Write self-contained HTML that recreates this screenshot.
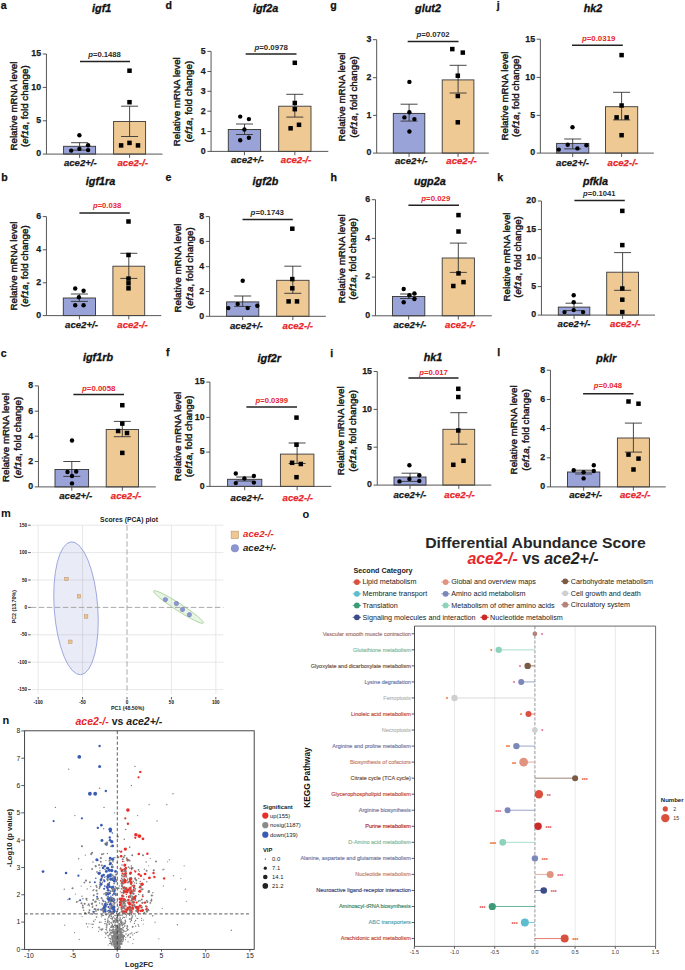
<!DOCTYPE html>
<html><head><meta charset="utf-8"><title>Figure</title><style>
html,body{margin:0;padding:0;background:#fff;overflow:hidden;width:685px;height:970px;}
svg{display:block;font-family:"Liberation Sans",sans-serif;}
.pl{font-weight:bold;font-size:10.6px;fill:#111;stroke:#111;stroke-width:0.25px}
.ti{font-weight:bold;font-style:italic;font-size:10.8px;text-anchor:middle;fill:#111;stroke:#111;stroke-width:0.3px}
.tl{font-weight:bold;font-size:9.8px;text-anchor:end;fill:#1a1a1a;stroke:#1a1a1a;stroke-width:0.25px}
.pv{font-size:7.4px;font-weight:bold}
.xl{font-weight:bold;font-style:italic;font-size:9.6px;text-anchor:middle;fill:#1a1a1a;stroke:#1a1a1a;stroke-width:0.25px}
.yl{font-size:9.4px;text-anchor:middle;fill:#161616;stroke:#161616;stroke-width:0.4px}
.plm,.pln{font-weight:bold;font-size:11px;fill:#111}
.plo{font-weight:bold;font-size:11px;fill:#111}
.pcat{font-weight:bold;font-size:6.8px;text-anchor:middle;fill:#222}
.pct{font-size:4.6px;text-anchor:end;fill:#111;font-weight:bold}
.pctx{font-size:4.6px;text-anchor:middle;fill:#111;font-weight:bold}
.pcax{font-weight:bold;font-size:5.3px;text-anchor:middle;fill:#222}
.lg{font-weight:bold;font-style:italic;font-size:8.2px;fill:#222}
.vt{font-weight:bold;font-size:10.5px;fill:#222}
.vtk{font-size:6.8px;text-anchor:end;fill:#222}
.vtkx{font-size:6.8px;text-anchor:middle;fill:#222}
.vax{font-weight:bold;font-size:7.6px;text-anchor:middle;fill:#222}
.vlb{font-weight:bold;font-size:5.8px;fill:#1a1a1a}
.vlt{font-size:5.9px;fill:#222}
.dt{font-weight:bold;font-size:14.9px;text-anchor:middle;fill:#262626}
.dt2{font-weight:bold;font-size:15.9px;text-anchor:middle;fill:#262626}
.sc{font-weight:bold;font-size:7.2px;fill:#222}
.lgt{font-size:7.2px;fill:#222}
.st{font-size:5.2px;fill:#e4422f;font-weight:bold}
.rl{font-size:5.5px;text-anchor:end;stroke-width:0.15px}
.lx{font-size:5.3px;text-anchor:middle;fill:#333}
.kp{font-weight:bold;font-size:8.3px;text-anchor:middle;fill:#111}
.nb{font-weight:bold;font-size:6px;fill:#222}
.nbt{font-size:5.2px;fill:#333}
</style></head>
<body><svg width="685" height="970" viewBox="0 0 685 970">
<rect width="685" height="970" fill="#fff"/>
<text x="0.7" y="9.2" class="pl">a</text>
<text x="101.7" y="12" class="ti">igf1</text>
<rect x="63.6" y="146.3" width="32" height="7.8" fill="#9aa3d8" stroke="#333" stroke-width="0.9"/>
<rect x="113.6" y="121.5" width="32" height="32.6" fill="#eec994" stroke="#3a3a3a" stroke-width="0.9"/>
<path d="M79.6 142.7V150.1M71.1 142.7H88.1M71.1 150.1H88.1" stroke="#333" stroke-width="0.9" fill="none"/>
<path d="M129.6 106.2V136.5M121.1 106.2H138.1M121.1 136.5H138.1" stroke="#333" stroke-width="0.9" fill="none"/>
<path d="M46.45 54V154.1H162.5" stroke="#444" stroke-width="0.9" fill="none"/>
<path d="M42.75 154.1H46.45M42.75 120.8H46.45M42.75 87.4H46.45M42.75 54H46.45M79.6 154.1v3.8M129.6 154.1v3.8" stroke="#444" stroke-width="0.9" fill="none"/>
<text x="41.15" y="156.4" class="tl" textLength="4.9" lengthAdjust="spacingAndGlyphs">0</text>
<text x="41.15" y="123.1" class="tl" textLength="4.9" lengthAdjust="spacingAndGlyphs">5</text>
<text x="41.15" y="89.7" class="tl" textLength="9.81" lengthAdjust="spacingAndGlyphs">10</text>
<text x="41.15" y="56.3" class="tl" textLength="9.81" lengthAdjust="spacingAndGlyphs">15</text>
<circle cx="79.4" cy="135.2" r="2.2"/>
<circle cx="71.2" cy="150.6" r="2.2"/>
<circle cx="79.4" cy="148.9" r="2.2"/>
<circle cx="88.1" cy="145.2" r="2.2"/>
<circle cx="88.1" cy="150.1" r="2.2"/>
<rect x="127.25" y="68.45" width="4.5" height="4.5"/>
<rect x="127.25" y="99.95" width="4.5" height="4.5"/>
<rect x="118.85" y="143.15" width="4.5" height="4.5"/>
<rect x="127.25" y="140.65" width="4.5" height="4.5"/>
<rect x="135.75" y="143.15" width="4.5" height="4.5"/>
<path d="M80 61.5H130" stroke="#222" stroke-width="1.5"/>
<text x="88.2" y="56.7" class="pv" fill="#2a2a2a" textLength="32.7" lengthAdjust="spacingAndGlyphs"><tspan font-style="italic">p</tspan>=0.1488</text>
<text x="80.3" y="165.8" class="xl">ace2+/-</text>
<text x="132.7" y="165.8" class="xl" style="fill:#e8262b;stroke:#e8262b">ace2-/-</text>
<text transform="translate(16.5 106.1) rotate(-90)" class="yl" textLength="89" lengthAdjust="spacingAndGlyphs">Relative mRNA level</text>
<text transform="translate(28.4 106.1) rotate(-90)" class="yl" textLength="81.7" lengthAdjust="spacingAndGlyphs">(<tspan font-style="italic">ef1a</tspan>, fold change)</text>
<text x="1.2" y="180.9" class="pl">b</text>
<text x="100.5" y="185" class="ti">igf1ra</text>
<rect x="63.3" y="298" width="32.2" height="17.6" fill="#9aa3d8" stroke="#333" stroke-width="0.9"/>
<rect x="112.9" y="266.2" width="31.8" height="49.4" fill="#eec994" stroke="#3a3a3a" stroke-width="0.9"/>
<path d="M79.4 294V301.4M70.9 294H87.9M70.9 301.4H87.9" stroke="#333" stroke-width="0.9" fill="none"/>
<path d="M128.8 253.3V278.4M120.3 253.3H137.3M120.3 278.4H137.3" stroke="#333" stroke-width="0.9" fill="none"/>
<path d="M46.45 216.6V315.6H161.3" stroke="#444" stroke-width="0.9" fill="none"/>
<path d="M42.75 315.6H46.45M42.75 282.8H46.45M42.75 249.8H46.45M42.75 216.6H46.45M79.4 315.6v3.8M128.8 315.6v3.8" stroke="#444" stroke-width="0.9" fill="none"/>
<text x="41.15" y="317.9" class="tl" textLength="4.9" lengthAdjust="spacingAndGlyphs">0</text>
<text x="41.15" y="285.1" class="tl" textLength="4.9" lengthAdjust="spacingAndGlyphs">2</text>
<text x="41.15" y="252.1" class="tl" textLength="4.9" lengthAdjust="spacingAndGlyphs">4</text>
<text x="41.15" y="218.9" class="tl" textLength="4.9" lengthAdjust="spacingAndGlyphs">6</text>
<circle cx="75.2" cy="288.5" r="2.2"/>
<circle cx="83.6" cy="290.8" r="2.2"/>
<circle cx="78.9" cy="297.2" r="2.2"/>
<circle cx="75.2" cy="305.2" r="2.2"/>
<circle cx="83.6" cy="305.2" r="2.2"/>
<rect x="126.25" y="219.25" width="4.5" height="4.5"/>
<rect x="126.25" y="252.75" width="4.5" height="4.5"/>
<rect x="126.25" y="276.35" width="4.5" height="4.5"/>
<rect x="126.25" y="281.05" width="4.5" height="4.5"/>
<rect x="126.25" y="286.05" width="4.5" height="4.5"/>
<path d="M79.4 212.9H129.8" stroke="#222" stroke-width="1.5"/>
<text x="93" y="208.2" class="pv" fill="#e8262b" textLength="28.2" lengthAdjust="spacingAndGlyphs"><tspan font-style="italic">p</tspan>=0.038</text>
<text x="81.5" y="328.2" class="xl">ace2+/-</text>
<text x="132.5" y="328.2" class="xl" style="fill:#e8262b;stroke:#e8262b">ace2-/-</text>
<text transform="translate(16.5 266.1) rotate(-90)" class="yl" textLength="89" lengthAdjust="spacingAndGlyphs">Relative mRNA level</text>
<text transform="translate(28.1 266.1) rotate(-90)" class="yl" textLength="81.7" lengthAdjust="spacingAndGlyphs">(<tspan font-style="italic">ef1a</tspan>, fold change)</text>
<text x="0.7" y="356.5" class="pl">c</text>
<text x="98" y="361.2" class="ti">igf1rb</text>
<rect x="55" y="469.5" width="33.6" height="17.4" fill="#9aa3d8" stroke="#333" stroke-width="0.9"/>
<rect x="106.2" y="429.5" width="32.3" height="57.4" fill="#eec994" stroke="#3a3a3a" stroke-width="0.9"/>
<path d="M71.8 461.5V476.4M63.3 461.5H80.3M63.3 476.4H80.3" stroke="#333" stroke-width="0.9" fill="none"/>
<path d="M122.3 421.4V436.7M113.8 421.4H130.8M113.8 436.7H130.8" stroke="#333" stroke-width="0.9" fill="none"/>
<path d="M38.45 385.9V486.9H155.8" stroke="#444" stroke-width="0.9" fill="none"/>
<path d="M34.75 486.9H38.45M34.75 461.5H38.45M34.75 436.2H38.45M34.75 411.2H38.45M34.75 385.9H38.45M71.8 486.9v3.8M122.35 486.9v3.8" stroke="#444" stroke-width="0.9" fill="none"/>
<text x="33.15" y="489.2" class="tl" textLength="4.9" lengthAdjust="spacingAndGlyphs">0</text>
<text x="33.15" y="463.8" class="tl" textLength="4.9" lengthAdjust="spacingAndGlyphs">2</text>
<text x="33.15" y="438.5" class="tl" textLength="4.9" lengthAdjust="spacingAndGlyphs">4</text>
<text x="33.15" y="413.5" class="tl" textLength="4.9" lengthAdjust="spacingAndGlyphs">6</text>
<text x="33.15" y="388.2" class="tl" textLength="4.9" lengthAdjust="spacingAndGlyphs">8</text>
<circle cx="72" cy="440.5" r="2.2"/>
<circle cx="67.5" cy="472" r="2.2"/>
<circle cx="76.2" cy="471.5" r="2.2"/>
<circle cx="72" cy="483.4" r="2.2"/>
<circle cx="72" cy="476" r="2.2"/>
<rect x="120.05" y="402.95" width="4.5" height="4.5"/>
<rect x="120.05" y="421.35" width="4.5" height="4.5"/>
<rect x="115.85" y="428.75" width="4.5" height="4.5"/>
<rect x="124.75" y="430.75" width="4.5" height="4.5"/>
<rect x="120.05" y="450.65" width="4.5" height="4.5"/>
<path d="M73.4 394.6H124" stroke="#222" stroke-width="1.5"/>
<text x="82" y="391.2" class="pv" fill="#e8262b" textLength="33.4" lengthAdjust="spacingAndGlyphs"><tspan font-style="italic">p</tspan>=0.0058</text>
<text x="75.7" y="499" class="xl">ace2+/-</text>
<text x="126" y="499" class="xl" style="fill:#e8262b;stroke:#e8262b">ace2-/-</text>
<text transform="translate(8.9 437.6) rotate(-90)" class="yl" textLength="89" lengthAdjust="spacingAndGlyphs">Relative mRNA level</text>
<text transform="translate(20.5 437.6) rotate(-90)" class="yl" textLength="81.7" lengthAdjust="spacingAndGlyphs">(<tspan font-style="italic">ef1a</tspan>, fold change)</text>
<text x="165.6" y="9.4" class="pl">d</text>
<text x="265.6" y="12.1" class="ti">igf2a</text>
<rect x="228.3" y="129.5" width="32.3" height="21.9" fill="#9aa3d8" stroke="#333" stroke-width="0.9"/>
<rect x="278.7" y="106.2" width="32.3" height="45.2" fill="#eec994" stroke="#3a3a3a" stroke-width="0.9"/>
<path d="M244.5 124V134.5M236 124H253M236 134.5H253" stroke="#333" stroke-width="0.9" fill="none"/>
<path d="M294.8 94.3V117.1M286.3 94.3H303.3M286.3 117.1H303.3" stroke="#333" stroke-width="0.9" fill="none"/>
<path d="M211.07 51.4V151.4H328.3" stroke="#444" stroke-width="0.9" fill="none"/>
<path d="M207.37 151.4H211.07M207.37 131.5H211.07M207.37 111.2H211.07M207.37 91.3H211.07M207.37 71.5H211.07M207.37 51.4H211.07M244.45 151.4v3.8M294.85 151.4v3.8" stroke="#444" stroke-width="0.9" fill="none"/>
<text x="205.77" y="153.7" class="tl" textLength="4.9" lengthAdjust="spacingAndGlyphs">0</text>
<text x="205.77" y="133.8" class="tl" textLength="4.9" lengthAdjust="spacingAndGlyphs">1</text>
<text x="205.77" y="113.5" class="tl" textLength="4.9" lengthAdjust="spacingAndGlyphs">2</text>
<text x="205.77" y="93.6" class="tl" textLength="4.9" lengthAdjust="spacingAndGlyphs">3</text>
<text x="205.77" y="73.8" class="tl" textLength="4.9" lengthAdjust="spacingAndGlyphs">4</text>
<text x="205.77" y="53.7" class="tl" textLength="4.9" lengthAdjust="spacingAndGlyphs">5</text>
<circle cx="240.2" cy="116.6" r="2.2"/>
<circle cx="248.9" cy="119.1" r="2.2"/>
<circle cx="244.4" cy="129.5" r="2.2"/>
<circle cx="240.2" cy="140.2" r="2.2"/>
<circle cx="248.9" cy="137.7" r="2.2"/>
<rect x="292.55" y="60.55" width="4.5" height="4.5"/>
<rect x="292.55" y="100.75" width="4.5" height="4.5"/>
<rect x="292.55" y="106.95" width="4.5" height="4.5"/>
<rect x="288.35" y="126.05" width="4.5" height="4.5"/>
<rect x="296.75" y="122.55" width="4.5" height="4.5"/>
<path d="M245.7 54.1H296.5" stroke="#222" stroke-width="1.5"/>
<text x="254.4" y="49.5" class="pv" fill="#2a2a2a" textLength="33.5" lengthAdjust="spacingAndGlyphs"><tspan font-style="italic">p</tspan>=0.0978</text>
<text x="247.4" y="163.2" class="xl">ace2+/-</text>
<text x="296" y="163.2" class="xl" style="fill:#e8262b;stroke:#e8262b">ace2-/-</text>
<text transform="translate(180.4 101.7) rotate(-90)" class="yl" textLength="89" lengthAdjust="spacingAndGlyphs">Relative mRNA level</text>
<text transform="translate(192 101.7) rotate(-90)" class="yl" textLength="81.7" lengthAdjust="spacingAndGlyphs">(<tspan font-style="italic">ef1a</tspan>, fold change)</text>
<text x="165.5" y="180.8" class="pl">e</text>
<text x="265.5" y="185" class="ti">igf2b</text>
<rect x="226.6" y="301.9" width="32.2" height="14.4" fill="#9aa3d8" stroke="#333" stroke-width="0.9"/>
<rect x="276.7" y="280.3" width="32.3" height="36" fill="#eec994" stroke="#3a3a3a" stroke-width="0.9"/>
<path d="M242.7 296V306.4M234.2 296H251.2M234.2 306.4H251.2" stroke="#333" stroke-width="0.9" fill="none"/>
<path d="M292.8 266.2V293.3M284.3 266.2H301.3M284.3 293.3H301.3" stroke="#333" stroke-width="0.9" fill="none"/>
<path d="M209.57 216.6V316.3H325.8" stroke="#444" stroke-width="0.9" fill="none"/>
<path d="M205.87 316.3H209.57M205.87 291.5H209.57M205.87 266.7H209.57M205.87 241.4H209.57M205.87 216.6H209.57M242.7 316.3v3.8M292.85 316.3v3.8" stroke="#444" stroke-width="0.9" fill="none"/>
<text x="204.27" y="318.6" class="tl" textLength="4.9" lengthAdjust="spacingAndGlyphs">0</text>
<text x="204.27" y="293.8" class="tl" textLength="4.9" lengthAdjust="spacingAndGlyphs">2</text>
<text x="204.27" y="269" class="tl" textLength="4.9" lengthAdjust="spacingAndGlyphs">4</text>
<text x="204.27" y="243.7" class="tl" textLength="4.9" lengthAdjust="spacingAndGlyphs">6</text>
<text x="204.27" y="218.9" class="tl" textLength="4.9" lengthAdjust="spacingAndGlyphs">8</text>
<circle cx="242.7" cy="280.8" r="2.2"/>
<circle cx="237.7" cy="303.9" r="2.2"/>
<circle cx="228.3" cy="308.1" r="2.2"/>
<circle cx="247.7" cy="308.1" r="2.2"/>
<circle cx="257.3" cy="305.7" r="2.2"/>
<rect x="290.05" y="226.45" width="4.5" height="4.5"/>
<rect x="290.05" y="276.85" width="4.5" height="4.5"/>
<rect x="290.05" y="286.05" width="4.5" height="4.5"/>
<rect x="286.35" y="299.15" width="4.5" height="4.5"/>
<rect x="294.75" y="299.15" width="4.5" height="4.5"/>
<path d="M242.5 219.6H292.8" stroke="#222" stroke-width="1.5"/>
<text x="250.6" y="215" class="pv" fill="#2a2a2a" textLength="33.4" lengthAdjust="spacingAndGlyphs"><tspan font-style="italic">p</tspan>=0.1743</text>
<text x="246.4" y="329" class="xl">ace2+/-</text>
<text x="297.8" y="329" class="xl" style="fill:#e8262b;stroke:#e8262b">ace2-/-</text>
<text transform="translate(181.3 268.1) rotate(-90)" class="yl" textLength="89" lengthAdjust="spacingAndGlyphs">Relative mRNA level</text>
<text transform="translate(192.9 268.1) rotate(-90)" class="yl" textLength="81.7" lengthAdjust="spacingAndGlyphs">(<tspan font-style="italic">ef1a</tspan>, fold change)</text>
<text x="166" y="356.3" class="pl">f</text>
<text x="269.3" y="362" class="ti">igf2r</text>
<rect x="227.6" y="479.3" width="34.2" height="7.1" fill="#9aa3d8" stroke="#333" stroke-width="0.9"/>
<rect x="280.4" y="454.1" width="33.5" height="32.3" fill="#eec994" stroke="#3a3a3a" stroke-width="0.9"/>
<path d="M244.7 477V481M236.2 477H253.2M236.2 481H253.2" stroke="#333" stroke-width="0.9" fill="none"/>
<path d="M297.1 443V463.5M288.6 443H305.6M288.6 463.5H305.6" stroke="#333" stroke-width="0.9" fill="none"/>
<path d="M209.93 382.1V486.4H331.3" stroke="#444" stroke-width="0.9" fill="none"/>
<path d="M206.23 486.4H209.93M206.23 452.1H209.93M206.23 417.4H209.93M206.23 382.1H209.93M244.7 486.4v3.8M297.15 486.4v3.8" stroke="#444" stroke-width="0.9" fill="none"/>
<text x="204.63" y="488.7" class="tl" textLength="4.9" lengthAdjust="spacingAndGlyphs">0</text>
<text x="204.63" y="454.4" class="tl" textLength="4.9" lengthAdjust="spacingAndGlyphs">5</text>
<text x="204.63" y="419.7" class="tl" textLength="9.81" lengthAdjust="spacingAndGlyphs">10</text>
<text x="204.63" y="384.4" class="tl" textLength="9.81" lengthAdjust="spacingAndGlyphs">15</text>
<circle cx="235.8" cy="473.5" r="2.2"/>
<circle cx="244.4" cy="478.4" r="2.2"/>
<circle cx="253.9" cy="476" r="2.2"/>
<circle cx="235.8" cy="483.1" r="2.2"/>
<circle cx="253.9" cy="482.6" r="2.2"/>
<rect x="294.25" y="415.35" width="4.5" height="4.5"/>
<rect x="294.25" y="442.45" width="4.5" height="4.5"/>
<rect x="289.85" y="460.55" width="4.5" height="4.5"/>
<rect x="298.55" y="461.75" width="4.5" height="4.5"/>
<rect x="294.25" y="474.95" width="4.5" height="4.5"/>
<path d="M246.4 407H297" stroke="#222" stroke-width="1.5"/>
<text x="255.6" y="402.9" class="pv" fill="#e8262b" textLength="32.3" lengthAdjust="spacingAndGlyphs"><tspan font-style="italic">p</tspan>=0.0399</text>
<text x="247" y="500.7" class="xl">ace2+/-</text>
<text x="297.8" y="500.7" class="xl" style="fill:#e8262b;stroke:#e8262b">ace2-/-</text>
<text transform="translate(180.7 436.4) rotate(-90)" class="yl" textLength="89" lengthAdjust="spacingAndGlyphs">Relative mRNA level</text>
<text transform="translate(192.3 436.4) rotate(-90)" class="yl" textLength="81.7" lengthAdjust="spacingAndGlyphs">(<tspan font-style="italic">ef1a</tspan>, fold change)</text>
<text x="330.3" y="9.3" class="pl">g</text>
<text x="428" y="12" class="ti">glut2</text>
<rect x="393.3" y="113.4" width="31.5" height="39.7" fill="#9aa3d8" stroke="#333" stroke-width="0.9"/>
<rect x="442.2" y="79.9" width="31.7" height="73.2" fill="#eec994" stroke="#3a3a3a" stroke-width="0.9"/>
<path d="M409.1 104.2V121.1M400.6 104.2H417.6M400.6 121.1H417.6" stroke="#333" stroke-width="0.9" fill="none"/>
<path d="M458.1 65.3V93M449.6 65.3H466.6M449.6 93H466.6" stroke="#333" stroke-width="0.9" fill="none"/>
<path d="M376.66 39.7V153.1H488.8" stroke="#444" stroke-width="0.9" fill="none"/>
<path d="M372.96 153.1H376.66M372.96 115.4H376.66M372.96 77.7H376.66M372.96 39.7H376.66M409.05 153.1v3.8M458.05 153.1v3.8" stroke="#444" stroke-width="0.9" fill="none"/>
<text x="371.36" y="155.4" class="tl" textLength="4.9" lengthAdjust="spacingAndGlyphs">0</text>
<text x="371.36" y="117.7" class="tl" textLength="4.9" lengthAdjust="spacingAndGlyphs">1</text>
<text x="371.36" y="80" class="tl" textLength="4.9" lengthAdjust="spacingAndGlyphs">2</text>
<text x="371.36" y="42" class="tl" textLength="4.9" lengthAdjust="spacingAndGlyphs">3</text>
<circle cx="409.4" cy="81.9" r="2.2"/>
<circle cx="409.4" cy="112.2" r="2.2"/>
<circle cx="404.4" cy="117.4" r="2.2"/>
<circle cx="414.4" cy="119.1" r="2.2"/>
<circle cx="409.4" cy="131.5" r="2.2"/>
<rect x="450.05" y="46.85" width="4.5" height="4.5"/>
<rect x="460.55" y="50.35" width="4.5" height="4.5"/>
<rect x="455.55" y="73.45" width="4.5" height="4.5"/>
<rect x="455.55" y="93.75" width="4.5" height="4.5"/>
<rect x="455.55" y="120.05" width="4.5" height="4.5"/>
<path d="M407.7 41.4H458.5" stroke="#222" stroke-width="1.5"/>
<text x="416.4" y="36.5" class="pv" fill="#2a2a2a" textLength="33.2" lengthAdjust="spacingAndGlyphs"><tspan font-style="italic">p</tspan>=0.0702</text>
<text x="411.4" y="164" class="xl">ace2+/-</text>
<text x="461.5" y="164" class="xl" style="fill:#e8262b;stroke:#e8262b">ace2-/-</text>
<text transform="translate(345.4 97) rotate(-90)" class="yl" textLength="89" lengthAdjust="spacingAndGlyphs">Relative mRNA level</text>
<text transform="translate(357 97) rotate(-90)" class="yl" textLength="81.7" lengthAdjust="spacingAndGlyphs">(<tspan font-style="italic">ef1a</tspan>, fold change)</text>
<text x="330.4" y="180.8" class="pl">h</text>
<text x="429.8" y="185" class="ti">ugp2a</text>
<rect x="392.5" y="296.5" width="32.3" height="19.3" fill="#9aa3d8" stroke="#333" stroke-width="0.9"/>
<rect x="442.2" y="258" width="32.2" height="57.8" fill="#eec994" stroke="#3a3a3a" stroke-width="0.9"/>
<path d="M408.6 294V298.5M400.1 294H417.1M400.1 298.5H417.1" stroke="#333" stroke-width="0.9" fill="none"/>
<path d="M458.3 243.1V272.4M449.8 243.1H466.8M449.8 272.4H466.8" stroke="#333" stroke-width="0.9" fill="none"/>
<path d="M375.5 199.7V315.8H491.8" stroke="#444" stroke-width="0.9" fill="none"/>
<path d="M371.8 315.8H375.5M371.8 277.1H375.5M371.8 238.4H375.5M371.8 199.7H375.5M408.65 315.8v3.8M458.3 315.8v3.8" stroke="#444" stroke-width="0.9" fill="none"/>
<text x="370.2" y="318.1" class="tl" textLength="4.9" lengthAdjust="spacingAndGlyphs">0</text>
<text x="370.2" y="279.4" class="tl" textLength="4.9" lengthAdjust="spacingAndGlyphs">2</text>
<text x="370.2" y="240.7" class="tl" textLength="4.9" lengthAdjust="spacingAndGlyphs">4</text>
<text x="370.2" y="202" class="tl" textLength="4.9" lengthAdjust="spacingAndGlyphs">6</text>
<circle cx="403.7" cy="289" r="2.2"/>
<circle cx="409.4" cy="295.2" r="2.2"/>
<circle cx="403.7" cy="302.2" r="2.2"/>
<circle cx="414.4" cy="293.5" r="2.2"/>
<circle cx="414.4" cy="299" r="2.2"/>
<rect x="456.25" y="212.85" width="4.5" height="4.5"/>
<rect x="456.25" y="229.25" width="4.5" height="4.5"/>
<rect x="456.25" y="271.15" width="4.5" height="4.5"/>
<rect x="451.05" y="283.75" width="4.5" height="4.5"/>
<rect x="461.25" y="279.85" width="4.5" height="4.5"/>
<path d="M408.4 205.2H459" stroke="#222" stroke-width="1.5"/>
<text x="421.3" y="201" class="pv" fill="#e8262b" textLength="29" lengthAdjust="spacingAndGlyphs"><tspan font-style="italic">p</tspan>=0.029</text>
<text x="409.9" y="327.5" class="xl">ace2+/-</text>
<text x="460.3" y="327.5" class="xl" style="fill:#e8262b;stroke:#e8262b">ace2-/-</text>
<text transform="translate(344.8 258.8) rotate(-90)" class="yl" textLength="89" lengthAdjust="spacingAndGlyphs">Relative mRNA level</text>
<text transform="translate(356.4 258.8) rotate(-90)" class="yl" textLength="81.7" lengthAdjust="spacingAndGlyphs">(<tspan font-style="italic">ef1a</tspan>, fold change)</text>
<text x="330.3" y="356.5" class="pl">i</text>
<text x="433" y="361.2" class="ti">hk1</text>
<rect x="394" y="477" width="32" height="8.1" fill="#9aa3d8" stroke="#333" stroke-width="0.9"/>
<rect x="442.9" y="429.3" width="31.8" height="55.8" fill="#eec994" stroke="#3a3a3a" stroke-width="0.9"/>
<path d="M410 473.2V481.4M401.5 473.2H418.5M401.5 481.4H418.5" stroke="#333" stroke-width="0.9" fill="none"/>
<path d="M458.8 412.7V444.2M450.3 412.7H467.3M450.3 444.2H467.3" stroke="#333" stroke-width="0.9" fill="none"/>
<path d="M377.28 371.5V485.1H491.3" stroke="#444" stroke-width="0.9" fill="none"/>
<path d="M373.58 485.1H377.28M373.58 447.2H377.28M373.58 409.4H377.28M373.58 371.5H377.28M410 485.1v3.8M458.8 485.1v3.8" stroke="#444" stroke-width="0.9" fill="none"/>
<text x="371.98" y="487.4" class="tl" textLength="4.9" lengthAdjust="spacingAndGlyphs">0</text>
<text x="371.98" y="449.5" class="tl" textLength="4.9" lengthAdjust="spacingAndGlyphs">5</text>
<text x="371.98" y="411.7" class="tl" textLength="9.81" lengthAdjust="spacingAndGlyphs">10</text>
<text x="371.98" y="373.8" class="tl" textLength="9.81" lengthAdjust="spacingAndGlyphs">15</text>
<circle cx="409.4" cy="465.3" r="2.2"/>
<circle cx="399.5" cy="481.4" r="2.2"/>
<circle cx="409.4" cy="478.9" r="2.2"/>
<circle cx="419.3" cy="475.2" r="2.2"/>
<circle cx="419.3" cy="480.9" r="2.2"/>
<rect x="456.05" y="386.55" width="4.5" height="4.5"/>
<rect x="456.05" y="394.75" width="4.5" height="4.5"/>
<rect x="456.05" y="428.25" width="4.5" height="4.5"/>
<rect x="451.05" y="462.55" width="4.5" height="4.5"/>
<rect x="461.25" y="458.55" width="4.5" height="4.5"/>
<path d="M408.4 377.9H458.5" stroke="#222" stroke-width="1.5"/>
<text x="419.3" y="375.1" class="pv" fill="#e8262b" textLength="28.6" lengthAdjust="spacingAndGlyphs"><tspan font-style="italic">p</tspan>=0.017</text>
<text x="409.9" y="497.8" class="xl">ace2+/-</text>
<text x="459.5" y="497.8" class="xl" style="fill:#e8262b;stroke:#e8262b">ace2-/-</text>
<text transform="translate(344.2 430.8) rotate(-90)" class="yl" textLength="89" lengthAdjust="spacingAndGlyphs">Relative mRNA level</text>
<text transform="translate(355.8 430.8) rotate(-90)" class="yl" textLength="81.7" lengthAdjust="spacingAndGlyphs">(<tspan font-style="italic">ef1a</tspan>, fold change)</text>
<text x="496.8" y="9.3" class="pl">j</text>
<text x="593" y="12" class="ti">hk2</text>
<rect x="556.6" y="143.4" width="32.2" height="9.7" fill="#9aa3d8" stroke="#333" stroke-width="0.9"/>
<rect x="605.5" y="106.7" width="32.2" height="46.4" fill="#eec994" stroke="#3a3a3a" stroke-width="0.9"/>
<path d="M572.7 139V148.9M564.2 139H581.2M564.2 148.9H581.2" stroke="#333" stroke-width="0.9" fill="none"/>
<path d="M621.6 92.3V119.9M613.1 92.3H630.1M613.1 119.9H630.1" stroke="#333" stroke-width="0.9" fill="none"/>
<path d="M540.36 39.2V153.1H653.8" stroke="#444" stroke-width="0.9" fill="none"/>
<path d="M536.66 153.1H540.36M536.66 115.4H540.36M536.66 77.4H540.36M536.66 39.2H540.36M572.7 153.1v3.8M621.6 153.1v3.8" stroke="#444" stroke-width="0.9" fill="none"/>
<text x="535.06" y="155.4" class="tl" textLength="4.9" lengthAdjust="spacingAndGlyphs">0</text>
<text x="535.06" y="117.7" class="tl" textLength="4.9" lengthAdjust="spacingAndGlyphs">5</text>
<text x="535.06" y="79.7" class="tl" textLength="9.81" lengthAdjust="spacingAndGlyphs">10</text>
<text x="535.06" y="41.5" class="tl" textLength="9.81" lengthAdjust="spacingAndGlyphs">15</text>
<circle cx="572.5" cy="127.3" r="2.2"/>
<circle cx="567.7" cy="144.7" r="2.2"/>
<circle cx="558.8" cy="149.6" r="2.2"/>
<circle cx="577.4" cy="148.4" r="2.2"/>
<circle cx="586.4" cy="145.2" r="2.2"/>
<rect x="619.35" y="52.85" width="4.5" height="4.5"/>
<rect x="619.35" y="103.25" width="4.5" height="4.5"/>
<rect x="614.35" y="115.15" width="4.5" height="4.5"/>
<rect x="624.35" y="115.15" width="4.5" height="4.5"/>
<rect x="619.35" y="132.95" width="4.5" height="4.5"/>
<path d="M572 45.2H622.8" stroke="#222" stroke-width="1.5"/>
<text x="581.9" y="40.9" class="pv" fill="#e8262b" textLength="33.5" lengthAdjust="spacingAndGlyphs"><tspan font-style="italic">p</tspan>=0.0319</text>
<text x="572.5" y="165.7" class="xl">ace2+/-</text>
<text x="622.8" y="165.7" class="xl" style="fill:#e8262b;stroke:#e8262b">ace2-/-</text>
<text transform="translate(507.5 96.1) rotate(-90)" class="yl" textLength="89" lengthAdjust="spacingAndGlyphs">Relative mRNA level</text>
<text transform="translate(519.4 96.1) rotate(-90)" class="yl" textLength="81.7" lengthAdjust="spacingAndGlyphs">(<tspan font-style="italic">ef1a</tspan>, fold change)</text>
<text x="497.3" y="180.8" class="pl">k</text>
<text x="595.5" y="184.6" class="ti">pfkla</text>
<rect x="558.3" y="307.1" width="31.5" height="8" fill="#9aa3d8" stroke="#333" stroke-width="0.9"/>
<rect x="606.7" y="272.2" width="31.8" height="42.9" fill="#eec994" stroke="#3a3a3a" stroke-width="0.9"/>
<path d="M574 303.2V310.6M565.5 303.2H582.5M565.5 310.6H582.5" stroke="#333" stroke-width="0.9" fill="none"/>
<path d="M622.6 252.6V290.3M614.1 252.6H631.1M614.1 290.3H631.1" stroke="#333" stroke-width="0.9" fill="none"/>
<path d="M541.45 201V315.1H655" stroke="#444" stroke-width="0.9" fill="none"/>
<path d="M537.75 315.1H541.45M537.75 286.6H541.45M537.75 258H541.45M537.75 229.5H541.45M537.75 201H541.45M574.05 315.1v3.8M622.6 315.1v3.8" stroke="#444" stroke-width="0.9" fill="none"/>
<text x="536.15" y="317.4" class="tl" textLength="4.9" lengthAdjust="spacingAndGlyphs">0</text>
<text x="536.15" y="288.9" class="tl" textLength="4.9" lengthAdjust="spacingAndGlyphs">5</text>
<text x="536.15" y="260.3" class="tl" textLength="9.81" lengthAdjust="spacingAndGlyphs">10</text>
<text x="536.15" y="231.8" class="tl" textLength="9.81" lengthAdjust="spacingAndGlyphs">15</text>
<text x="536.15" y="203.3" class="tl" textLength="9.81" lengthAdjust="spacingAndGlyphs">20</text>
<circle cx="573.7" cy="295.2" r="2.2"/>
<circle cx="573.7" cy="302.2" r="2.2"/>
<circle cx="564.5" cy="312.1" r="2.2"/>
<circle cx="573.7" cy="310.1" r="2.2"/>
<circle cx="583.1" cy="312.1" r="2.2"/>
<rect x="620.05" y="208.65" width="4.5" height="4.5"/>
<rect x="620.05" y="242.85" width="4.5" height="4.5"/>
<rect x="620.05" y="286.25" width="4.5" height="4.5"/>
<rect x="620.05" y="297.45" width="4.5" height="4.5"/>
<rect x="620.05" y="309.85" width="4.5" height="4.5"/>
<path d="M574.4 200.4H624.8" stroke="#222" stroke-width="1.5"/>
<text x="583.1" y="195.9" class="pv" fill="#2a2a2a" textLength="32.3" lengthAdjust="spacingAndGlyphs"><tspan font-style="italic">p</tspan>=0.1041</text>
<text x="574" y="327" class="xl">ace2+/-</text>
<text x="625.3" y="327" class="xl" style="fill:#e8262b;stroke:#e8262b">ace2-/-</text>
<text transform="translate(509.6 257) rotate(-90)" class="yl" textLength="89" lengthAdjust="spacingAndGlyphs">Relative mRNA level</text>
<text transform="translate(521.4 257) rotate(-90)" class="yl" textLength="81.7" lengthAdjust="spacingAndGlyphs">(<tspan font-style="italic">ef1a</tspan>, fold change)</text>
<text x="497.2" y="356.2" class="pl">l</text>
<text x="606.2" y="362" class="ti">pklr</text>
<rect x="567.5" y="472" width="32.3" height="14.9" fill="#9aa3d8" stroke="#333" stroke-width="0.9"/>
<rect x="617.4" y="438" width="32" height="48.9" fill="#eec994" stroke="#3a3a3a" stroke-width="0.9"/>
<path d="M583.6 470.2V474M575.1 470.2H592.1M575.1 474H592.1" stroke="#333" stroke-width="0.9" fill="none"/>
<path d="M633.4 423.1V452.1M624.9 423.1H641.9M624.9 452.1H641.9" stroke="#333" stroke-width="0.9" fill="none"/>
<path d="M550.45 370.2V486.9H665.8" stroke="#444" stroke-width="0.9" fill="none"/>
<path d="M546.75 486.9H550.45M546.75 457.8H550.45M546.75 428.5H550.45M546.75 399.5H550.45M546.75 370.2H550.45M583.65 486.9v3.8M633.4 486.9v3.8" stroke="#444" stroke-width="0.9" fill="none"/>
<text x="545.15" y="489.2" class="tl" textLength="4.9" lengthAdjust="spacingAndGlyphs">0</text>
<text x="545.15" y="460.1" class="tl" textLength="4.9" lengthAdjust="spacingAndGlyphs">2</text>
<text x="545.15" y="430.8" class="tl" textLength="4.9" lengthAdjust="spacingAndGlyphs">4</text>
<text x="545.15" y="401.8" class="tl" textLength="4.9" lengthAdjust="spacingAndGlyphs">6</text>
<text x="545.15" y="372.5" class="tl" textLength="4.9" lengthAdjust="spacingAndGlyphs">8</text>
<circle cx="573.7" cy="470.2" r="2.2"/>
<circle cx="583.6" cy="472.2" r="2.2"/>
<circle cx="593.8" cy="465.3" r="2.2"/>
<circle cx="593.8" cy="471" r="2.2"/>
<circle cx="583.6" cy="478.4" r="2.2"/>
<rect x="626.25" y="399.25" width="4.5" height="4.5"/>
<rect x="636.25" y="401.45" width="4.5" height="4.5"/>
<rect x="626.25" y="452.35" width="4.5" height="4.5"/>
<rect x="636.25" y="456.35" width="4.5" height="4.5"/>
<rect x="631.25" y="467.25" width="4.5" height="4.5"/>
<path d="M583.1 393.8H633.5" stroke="#222" stroke-width="1.5"/>
<text x="593.8" y="388.3" class="pv" fill="#e8262b" textLength="28.3" lengthAdjust="spacingAndGlyphs"><tspan font-style="italic">p</tspan>=0.048</text>
<text x="585.6" y="498.2" class="xl">ace2+/-</text>
<text x="635.2" y="498.2" class="xl" style="fill:#e8262b;stroke:#e8262b">ace2-/-</text>
<text transform="translate(517.2 429.9) rotate(-90)" class="yl" textLength="89" lengthAdjust="spacingAndGlyphs">Relative mRNA level</text>
<text transform="translate(528.7 429.9) rotate(-90)" class="yl" textLength="81.7" lengthAdjust="spacingAndGlyphs">(<tspan font-style="italic">ef1a</tspan>, fold change)</text>
<text x="1" y="517.3" class="plm">m</text>
<text x="129" y="521.6" class="pcat">Scores (PCA) plot</text>
<path d="M31.8 525.2H223.4M31.8 552.6H223.4M31.8 580H223.4M31.8 634.8H223.4M31.8 662.2H223.4M31.8 689.6H223.4M38.16 525.2V694M82.58 525.2V694M171.42 525.2V694M215.84 525.2V694" stroke="#dedede" stroke-width="0.7" fill="none"/>
<ellipse cx="76" cy="608.3" rx="21.8" ry="66.6" transform="rotate(-4.1 76 608.3)" fill="#7d8ad2" fill-opacity="0.17" stroke="#7d8ad2" stroke-width="0.7"/>
<ellipse cx="178.5" cy="607" rx="29.6" ry="3.6" transform="rotate(32.9 178.5 607)" fill="#98cc88" fill-opacity="0.22" stroke="#98cc88" stroke-width="0.7"/>
<path d="M30.8 607.4H223.4M127 525.2V694" stroke="#a0a0a0" stroke-width="0.9" stroke-dasharray="5.5 2.5" fill="none"/>
<text x="27" y="526.7" class="pct">150</text>
<text x="27" y="554.1" class="pct">100</text>
<text x="27" y="581.5" class="pct">50</text>
<text x="27" y="608.9" class="pct">0</text>
<text x="27" y="636.3" class="pct">-50</text>
<text x="27" y="663.7" class="pct">-100</text>
<text x="27" y="691.1" class="pct">-150</text>
<text x="38.16" y="704" class="pctx">-100</text>
<text x="82.58" y="704" class="pctx">-50</text>
<text x="127" y="704" class="pctx">0</text>
<text x="171.42" y="704" class="pctx">50</text>
<text x="215.84" y="704" class="pctx">100</text>
<path d="M28.1 525.2H30.8M28.1 552.6H30.8M28.1 580H30.8M28.1 607.4H30.8M28.1 634.8H30.8M28.1 662.2H30.8M28.1 689.6H30.8M38.16 697V699.4M82.58 697V699.4M127 697V699.4M171.42 697V699.4M215.84 697V699.4" stroke="#333" stroke-width="0.8" fill="none"/>
<text x="127.6" y="710.2" class="pcax">PC1 (48.50%)</text>
<text transform="translate(15.6 606.7) rotate(-90)" class="pcax">PC2 (13.70%)</text>
<rect x="64.7" y="577.2" width="3.6" height="3.6" fill="#eec08a" stroke="#b08a60" stroke-width="0.4"/>
<rect x="77.2" y="594.5" width="3.6" height="3.6" fill="#eec08a" stroke="#b08a60" stroke-width="0.4"/>
<rect x="84.3" y="614.7" width="3.6" height="3.6" fill="#eec08a" stroke="#b08a60" stroke-width="0.4"/>
<rect x="68.5" y="640" width="3.6" height="3.6" fill="#eec08a" stroke="#b08a60" stroke-width="0.4"/>
<circle cx="165.4" cy="599.6" r="2.2" fill="#8c96d0" stroke="#5a66a8" stroke-width="0.4"/>
<circle cx="176.4" cy="603.5" r="2.2" fill="#8c96d0" stroke="#5a66a8" stroke-width="0.4"/>
<circle cx="182.5" cy="609.5" r="2.2" fill="#8c96d0" stroke="#5a66a8" stroke-width="0.4"/>
<circle cx="189.4" cy="614.7" r="2.2" fill="#8c96d0" stroke="#5a66a8" stroke-width="0.4"/>
<rect x="231.1" y="531.1" width="7.6" height="7.6" fill="#eec890" stroke="#b09070" stroke-width="0.5"/>
<circle cx="234.9" cy="548.3" r="3.8" fill="#8c96d0" stroke="#6a74b8" stroke-width="0.4"/>
<text x="243" y="537.3" class="lg" style="fill:#e8262b" textLength="30.7" lengthAdjust="spacingAndGlyphs">ace2-/-</text>
<text x="243" y="550.7" class="lg" textLength="33" lengthAdjust="spacingAndGlyphs">ace2+/-</text>
<text x="2.5" y="724" class="pln">n</text>
<text x="75.5" y="725" class="vt"><tspan fill="#e8262b" font-style="italic">ace2-/-</tspan> vs <tspan font-style="italic">ace2+/-</tspan></text>
<g><circle cx="127.54" cy="908.16" r="0.85" fill="#e8302a"/><circle cx="129.67" cy="847.13" r="0.8" fill="#808080"/><circle cx="113.3" cy="889.56" r="1.39" fill="#3a5bb5"/><circle cx="102.22" cy="903.93" r="0.94" fill="#808080"/><circle cx="105.3" cy="912.67" r="1.04" fill="#808080"/><circle cx="128.74" cy="908.74" r="0.81" fill="#e8302a"/><circle cx="117.35" cy="862.71" r="0.76" fill="#808080"/><circle cx="141.96" cy="907.57" r="0.96" fill="#808080"/><circle cx="118.61" cy="948.67" r="0.79" fill="#808080"/><circle cx="92.12" cy="852.71" r="1.07" fill="#808080"/><circle cx="130.86" cy="904.11" r="1" fill="#808080"/><circle cx="117.49" cy="939.08" r="0.64" fill="#808080"/><circle cx="131.44" cy="785.54" r="0.7" fill="#808080"/><circle cx="117.86" cy="944.78" r="0.79" fill="#808080"/><circle cx="107.6" cy="880.66" r="0.67" fill="#808080"/><circle cx="126.7" cy="858.23" r="0.92" fill="#808080"/><circle cx="108.3" cy="894.44" r="1.02" fill="#3a5bb5"/><circle cx="115.9" cy="939.46" r="0.74" fill="#808080"/><circle cx="125.92" cy="875.28" r="0.86" fill="#e8302a"/><circle cx="123.09" cy="898.79" r="1.02" fill="#808080"/><circle cx="118.77" cy="888.13" r="0.77" fill="#808080"/><circle cx="117.53" cy="949.2" r="0.71" fill="#808080"/><circle cx="88.89" cy="912.56" r="0.98" fill="#808080"/><circle cx="146.8" cy="900.65" r="0.84" fill="#808080"/><circle cx="118.59" cy="937.64" r="0.68" fill="#808080"/><circle cx="115.78" cy="895.28" r="1.02" fill="#808080"/><circle cx="121.41" cy="941.6" r="0.61" fill="#808080"/><circle cx="162.91" cy="869.81" r="0.74" fill="#808080"/><circle cx="121.53" cy="937.57" r="0.59" fill="#808080"/><circle cx="134.38" cy="905.9" r="0.78" fill="#808080"/><circle cx="146.61" cy="870.67" r="1.04" fill="#808080"/><circle cx="118.69" cy="940.94" r="0.8" fill="#808080"/><circle cx="115.53" cy="871.44" r="1.41" fill="#3a5bb5"/><circle cx="106.38" cy="871.38" r="1.45" fill="#3a5bb5"/><circle cx="115.13" cy="940.85" r="0.75" fill="#808080"/><circle cx="93.13" cy="911.74" r="0.86" fill="#808080"/><circle cx="116.42" cy="945.09" r="0.64" fill="#808080"/><circle cx="123.13" cy="917.31" r="0.75" fill="#808080"/><circle cx="103.08" cy="911.79" r="0.85" fill="#808080"/><circle cx="115.47" cy="942.8" r="0.86" fill="#808080"/><circle cx="121" cy="931.46" r="0.83" fill="#808080"/><circle cx="117.37" cy="947.35" r="0.73" fill="#808080"/><circle cx="120.83" cy="934.4" r="0.7" fill="#808080"/><circle cx="134.73" cy="882.9" r="0.72" fill="#808080"/><circle cx="101.95" cy="929.57" r="0.82" fill="#808080"/><circle cx="117.11" cy="933.52" r="0.61" fill="#808080"/><circle cx="125" cy="874.07" r="1.64" fill="#e8302a"/><circle cx="125.39" cy="921.96" r="0.71" fill="#808080"/><circle cx="118.6" cy="947.14" r="0.77" fill="#808080"/><circle cx="119.73" cy="924.12" r="0.82" fill="#808080"/><circle cx="117.2" cy="944.5" r="0.76" fill="#808080"/><circle cx="107.93" cy="920.38" r="0.76" fill="#808080"/><circle cx="118.63" cy="947.26" r="0.57" fill="#808080"/><circle cx="114.22" cy="900.09" r="0.96" fill="#3a5bb5"/><circle cx="133.35" cy="902.17" r="1.53" fill="#e8302a"/><circle cx="125.5" cy="900.01" r="0.62" fill="#e8302a"/><circle cx="137.62" cy="909.01" r="0.95" fill="#808080"/><circle cx="114.04" cy="883.41" r="0.88" fill="#808080"/><circle cx="104.38" cy="908.55" r="0.95" fill="#3a5bb5"/><circle cx="124.97" cy="931.41" r="0.68" fill="#808080"/><circle cx="118" cy="942.24" r="0.67" fill="#808080"/><circle cx="116.52" cy="945.04" r="0.89" fill="#808080"/><circle cx="116.75" cy="948.41" r="0.78" fill="#808080"/><circle cx="93.72" cy="921.28" r="0.82" fill="#808080"/><circle cx="128.17" cy="929.63" r="0.57" fill="#808080"/><circle cx="112.49" cy="864.53" r="0.6" fill="#808080"/><circle cx="119.6" cy="942.15" r="0.55" fill="#808080"/><circle cx="97.88" cy="860.69" r="0.6" fill="#808080"/><circle cx="116.05" cy="945.75" r="0.87" fill="#808080"/><circle cx="119.73" cy="940.34" r="0.65" fill="#808080"/><circle cx="81.47" cy="903.31" r="1.01" fill="#808080"/><circle cx="114.87" cy="925.37" r="0.56" fill="#808080"/><circle cx="102.83" cy="900" r="0.77" fill="#808080"/><circle cx="115.55" cy="940.04" r="0.58" fill="#808080"/><circle cx="102.01" cy="854.35" r="1.02" fill="#808080"/><circle cx="109.62" cy="915.91" r="0.89" fill="#808080"/><circle cx="102.23" cy="882.82" r="0.67" fill="#3a5bb5"/><circle cx="96.9" cy="859.73" r="1.6" fill="#3a5bb5"/><circle cx="106.1" cy="895.6" r="0.7" fill="#3a5bb5"/><circle cx="95.57" cy="909.16" r="0.95" fill="#808080"/><circle cx="118.71" cy="948.42" r="0.68" fill="#808080"/><circle cx="114.59" cy="945.25" r="0.83" fill="#808080"/><circle cx="121.68" cy="923.3" r="0.63" fill="#808080"/><circle cx="116.4" cy="926.03" r="0.66" fill="#808080"/><circle cx="115.87" cy="938.39" r="0.58" fill="#808080"/><circle cx="117.13" cy="942.84" r="0.82" fill="#808080"/><circle cx="116.5" cy="946.73" r="0.69" fill="#808080"/><circle cx="184.17" cy="865.85" r="0.6" fill="#808080"/><circle cx="112.97" cy="927.02" r="0.66" fill="#808080"/><circle cx="121.33" cy="904.03" r="0.96" fill="#808080"/><circle cx="104.04" cy="807.39" r="0.7" fill="#808080"/><circle cx="124.37" cy="917.59" r="0.75" fill="#808080"/><circle cx="110.22" cy="908.95" r="0.79" fill="#808080"/><circle cx="117.71" cy="935.24" r="0.62" fill="#808080"/><circle cx="117.57" cy="949.05" r="0.6" fill="#808080"/><circle cx="115.37" cy="886.64" r="0.66" fill="#808080"/><circle cx="78.43" cy="901" r="0.6" fill="#808080"/><circle cx="142.36" cy="896.04" r="0.69" fill="#808080"/><circle cx="99.6" cy="903.04" r="0.74" fill="#808080"/><circle cx="118.71" cy="937.55" r="0.74" fill="#808080"/><circle cx="104.11" cy="888.73" r="1.08" fill="#3a5bb5"/><circle cx="118.86" cy="945.45" r="0.64" fill="#808080"/><circle cx="119.69" cy="920.18" r="0.78" fill="#808080"/><circle cx="97.35" cy="893.67" r="1.01" fill="#808080"/><circle cx="131.47" cy="882.77" r="0.97" fill="#808080"/><circle cx="130.51" cy="921.77" r="0.67" fill="#808080"/><circle cx="116.8" cy="930.06" r="0.85" fill="#808080"/><circle cx="100.13" cy="882.26" r="0.96" fill="#808080"/><circle cx="130.71" cy="894.98" r="0.9" fill="#808080"/><circle cx="118.65" cy="945.46" r="0.63" fill="#808080"/><circle cx="117.86" cy="944.1" r="0.64" fill="#808080"/><circle cx="121.39" cy="923.4" r="0.58" fill="#808080"/><circle cx="95" cy="909.17" r="0.95" fill="#808080"/><circle cx="116.89" cy="933.24" r="0.79" fill="#808080"/><circle cx="113.75" cy="938.2" r="0.85" fill="#808080"/><circle cx="99.36" cy="928.93" r="0.53" fill="#808080"/><circle cx="115.31" cy="933.58" r="0.66" fill="#808080"/><circle cx="120.16" cy="934.46" r="0.73" fill="#808080"/><circle cx="123.04" cy="932.42" r="0.66" fill="#808080"/><circle cx="113.25" cy="857.99" r="0.78" fill="#3a5bb5"/><circle cx="116.92" cy="948.07" r="0.69" fill="#808080"/><circle cx="119.03" cy="942.37" r="0.75" fill="#808080"/><circle cx="116.19" cy="919.95" r="0.64" fill="#808080"/><circle cx="102.73" cy="910.07" r="1" fill="#808080"/><circle cx="118.99" cy="920.68" r="0.69" fill="#808080"/><circle cx="110.01" cy="899.13" r="0.8" fill="#808080"/><circle cx="116.9" cy="946.05" r="0.67" fill="#808080"/><circle cx="115.73" cy="894.28" r="0.75" fill="#808080"/><circle cx="128.45" cy="934.84" r="0.77" fill="#808080"/><circle cx="113.55" cy="902.25" r="0.67" fill="#808080"/><circle cx="111.78" cy="841.63" r="1.68" fill="#3a5bb5"/><circle cx="129.65" cy="915.14" r="0.83" fill="#808080"/><circle cx="124.12" cy="911.96" r="0.97" fill="#808080"/><circle cx="131.99" cy="916.98" r="0.54" fill="#808080"/><circle cx="117.38" cy="945.87" r="0.77" fill="#808080"/><circle cx="140.01" cy="905.73" r="1.24" fill="#e8302a"/><circle cx="114.54" cy="936.59" r="0.85" fill="#808080"/><circle cx="117.68" cy="943.56" r="0.81" fill="#808080"/><circle cx="112.24" cy="938.24" r="0.76" fill="#808080"/><circle cx="130.09" cy="879.02" r="1.18" fill="#e8302a"/><circle cx="119.27" cy="943.58" r="0.61" fill="#808080"/><circle cx="116.86" cy="894.03" r="0.68" fill="#808080"/><circle cx="105.29" cy="923.16" r="0.53" fill="#808080"/><circle cx="118.09" cy="948.39" r="0.66" fill="#808080"/><circle cx="129.32" cy="896.71" r="1.51" fill="#e8302a"/><circle cx="116.89" cy="929.73" r="0.8" fill="#808080"/><circle cx="152.84" cy="892.74" r="0.74" fill="#808080"/><circle cx="117.19" cy="940.28" r="0.71" fill="#808080"/><circle cx="138.83" cy="926.13" r="0.73" fill="#808080"/><circle cx="111.58" cy="912.86" r="0.72" fill="#808080"/><circle cx="116.34" cy="944.3" r="0.74" fill="#808080"/><circle cx="123.64" cy="903.22" r="1.07" fill="#e8302a"/><circle cx="92.31" cy="903.36" r="0.91" fill="#808080"/><circle cx="128.52" cy="867.09" r="0.92" fill="#808080"/><circle cx="82.07" cy="916.54" r="0.6" fill="#808080"/><circle cx="103.94" cy="880.08" r="1" fill="#808080"/><circle cx="109.59" cy="860.68" r="1.1" fill="#808080"/><circle cx="119.67" cy="920.5" r="0.78" fill="#808080"/><circle cx="116.77" cy="941.02" r="0.61" fill="#808080"/><circle cx="113.06" cy="891.16" r="0.97" fill="#808080"/><circle cx="112.7" cy="906.89" r="0.7" fill="#808080"/><circle cx="124.41" cy="870.02" r="0.97" fill="#808080"/><circle cx="94.06" cy="913.37" r="0.92" fill="#808080"/><circle cx="97.94" cy="898.6" r="1.04" fill="#808080"/><circle cx="110.36" cy="831.01" r="1.57" fill="#3a5bb5"/><circle cx="151.55" cy="899.32" r="0.81" fill="#808080"/><circle cx="121.08" cy="934.98" r="0.67" fill="#808080"/><circle cx="116.89" cy="948.36" r="0.62" fill="#808080"/><circle cx="116.18" cy="874.49" r="1.08" fill="#808080"/><circle cx="119.66" cy="941.57" r="0.77" fill="#808080"/><circle cx="106.22" cy="844.01" r="1.63" fill="#3a5bb5"/><circle cx="118.52" cy="944.98" r="0.78" fill="#808080"/><circle cx="135.92" cy="879.61" r="0.85" fill="#e8302a"/><circle cx="115.66" cy="941.91" r="0.78" fill="#808080"/><circle cx="117.59" cy="945.1" r="0.62" fill="#808080"/><circle cx="111.03" cy="943.29" r="0.79" fill="#808080"/><circle cx="148.91" cy="891.05" r="1.07" fill="#808080"/><circle cx="120.85" cy="938.12" r="0.62" fill="#808080"/><circle cx="122.84" cy="906.35" r="0.81" fill="#808080"/><circle cx="116.39" cy="940.79" r="0.84" fill="#808080"/><circle cx="131.86" cy="933.14" r="0.55" fill="#808080"/><circle cx="117.18" cy="943.78" r="0.66" fill="#808080"/><circle cx="112.88" cy="894.92" r="0.7" fill="#808080"/><circle cx="121.88" cy="870.77" r="1.39" fill="#e8302a"/><circle cx="116.28" cy="943.84" r="0.88" fill="#808080"/><circle cx="112.23" cy="900.5" r="0.79" fill="#3a5bb5"/><circle cx="120.72" cy="852.04" r="0.62" fill="#e8302a"/><circle cx="104.79" cy="886.08" r="0.83" fill="#3a5bb5"/><circle cx="114.64" cy="881.37" r="1.24" fill="#3a5bb5"/><circle cx="121.29" cy="892.7" r="0.67" fill="#e8302a"/><circle cx="118.46" cy="935.68" r="0.74" fill="#808080"/><circle cx="106.04" cy="933.66" r="0.85" fill="#808080"/><circle cx="135.44" cy="895.7" r="0.82" fill="#808080"/><circle cx="116.59" cy="935.38" r="0.73" fill="#808080"/><circle cx="112.32" cy="932.15" r="0.74" fill="#808080"/><circle cx="93.01" cy="890.43" r="0.78" fill="#808080"/><circle cx="114.37" cy="893.61" r="1.41" fill="#3a5bb5"/><circle cx="116.82" cy="946" r="0.59" fill="#808080"/><circle cx="148.76" cy="910.6" r="0.73" fill="#808080"/><circle cx="115.52" cy="929.57" r="0.8" fill="#808080"/><circle cx="104.75" cy="877.33" r="0.72" fill="#3a5bb5"/><circle cx="117.42" cy="937.23" r="0.83" fill="#808080"/><circle cx="115.73" cy="938.66" r="0.82" fill="#808080"/><circle cx="112.48" cy="924.62" r="0.56" fill="#808080"/><circle cx="117.67" cy="943.39" r="0.75" fill="#808080"/><circle cx="185.37" cy="889.32" r="0.7" fill="#808080"/><circle cx="118.54" cy="939.79" r="0.55" fill="#808080"/><circle cx="53.65" cy="821.04" r="1.1" fill="#3a5bb5"/><circle cx="136.33" cy="917.91" r="0.52" fill="#808080"/><circle cx="110.24" cy="858.3" r="1.43" fill="#3a5bb5"/><circle cx="120.97" cy="930.47" r="0.64" fill="#808080"/><circle cx="122.64" cy="938.03" r="0.62" fill="#808080"/><circle cx="125.48" cy="871.64" r="1.07" fill="#e8302a"/><circle cx="118.83" cy="944.87" r="0.58" fill="#808080"/><circle cx="118.91" cy="947.38" r="0.58" fill="#808080"/><circle cx="120.1" cy="915.61" r="0.74" fill="#808080"/><circle cx="119.69" cy="938.75" r="0.9" fill="#808080"/><circle cx="108.22" cy="902.23" r="0.9" fill="#808080"/><circle cx="132.5" cy="896.35" r="0.84" fill="#808080"/><circle cx="116.7" cy="946.42" r="0.69" fill="#808080"/><circle cx="100.79" cy="861.78" r="0.95" fill="#808080"/><circle cx="115.9" cy="943.86" r="0.65" fill="#808080"/><circle cx="113.93" cy="917.7" r="0.63" fill="#808080"/><circle cx="147.45" cy="901.99" r="1" fill="#808080"/><circle cx="121.25" cy="920.07" r="0.73" fill="#808080"/><circle cx="118.53" cy="929.22" r="0.73" fill="#808080"/><circle cx="118.51" cy="935.86" r="0.71" fill="#808080"/><circle cx="118.31" cy="930.34" r="0.76" fill="#808080"/><circle cx="114.65" cy="812.85" r="0.7" fill="#808080"/><circle cx="98.67" cy="931.4" r="0.53" fill="#808080"/><circle cx="85.95" cy="880.57" r="1.1" fill="#808080"/><circle cx="117.17" cy="941.23" r="0.53" fill="#808080"/><circle cx="105.25" cy="937.34" r="0.62" fill="#808080"/><circle cx="119.54" cy="941.62" r="0.8" fill="#808080"/><circle cx="116.09" cy="946.28" r="0.67" fill="#808080"/><circle cx="109.38" cy="874.98" r="0.68" fill="#3a5bb5"/><circle cx="130.8" cy="883.06" r="1.12" fill="#e8302a"/><circle cx="156.03" cy="861.49" r="0.92" fill="#808080"/><circle cx="113.52" cy="912.31" r="1.12" fill="#3a5bb5"/><circle cx="128.44" cy="899.95" r="1.27" fill="#e8302a"/><circle cx="117.46" cy="946.35" r="0.63" fill="#808080"/><circle cx="102.5" cy="882.19" r="0.74" fill="#808080"/><circle cx="107.37" cy="898.6" r="1.02" fill="#808080"/><circle cx="101.13" cy="929.32" r="0.84" fill="#808080"/><circle cx="84.68" cy="903.76" r="1.07" fill="#808080"/><circle cx="132.74" cy="902.09" r="1.03" fill="#808080"/><circle cx="148.39" cy="891.95" r="0.88" fill="#808080"/><circle cx="109.83" cy="914.76" r="0.61" fill="#808080"/><circle cx="140.28" cy="881.56" r="0.7" fill="#808080"/><circle cx="80.17" cy="900.24" r="1.1" fill="#3a5bb5"/><circle cx="115.01" cy="934.77" r="0.62" fill="#808080"/><circle cx="127.95" cy="909.43" r="0.7" fill="#808080"/><circle cx="131.7" cy="869.62" r="0.77" fill="#808080"/><circle cx="115.91" cy="939.28" r="0.68" fill="#808080"/><circle cx="116.34" cy="936.23" r="0.68" fill="#808080"/><circle cx="118.23" cy="923.03" r="0.66" fill="#808080"/><circle cx="116.79" cy="945.85" r="0.66" fill="#808080"/><circle cx="121.96" cy="885.37" r="0.81" fill="#808080"/><circle cx="116.71" cy="947.15" r="0.71" fill="#808080"/><circle cx="100.23" cy="873.01" r="0.85" fill="#808080"/><circle cx="121.72" cy="936.5" r="0.66" fill="#808080"/><circle cx="92.47" cy="927.53" r="0.62" fill="#808080"/><circle cx="115.98" cy="936.33" r="0.84" fill="#808080"/><circle cx="105.81" cy="892.84" r="0.69" fill="#808080"/><circle cx="121.79" cy="875.17" r="0.76" fill="#e8302a"/><circle cx="103.9" cy="907.3" r="0.86" fill="#808080"/><circle cx="132.42" cy="908.23" r="1.63" fill="#e8302a"/><circle cx="118.71" cy="946.22" r="0.8" fill="#808080"/><circle cx="116.16" cy="947.88" r="0.83" fill="#808080"/><circle cx="142.93" cy="896.49" r="0.86" fill="#e8302a"/><circle cx="119.44" cy="946.26" r="0.72" fill="#808080"/><circle cx="104.6" cy="910.7" r="1.34" fill="#3a5bb5"/><circle cx="120.24" cy="929.7" r="0.72" fill="#808080"/><circle cx="105.08" cy="919.28" r="0.85" fill="#808080"/><circle cx="115.4" cy="938.82" r="0.78" fill="#808080"/><circle cx="131.21" cy="910.76" r="1.37" fill="#e8302a"/><circle cx="112.07" cy="905.94" r="0.66" fill="#3a5bb5"/><circle cx="116.49" cy="929.67" r="0.7" fill="#808080"/><circle cx="85.15" cy="913.13" r="1.1" fill="#808080"/><circle cx="122.24" cy="925.29" r="0.85" fill="#808080"/><circle cx="111.35" cy="943.28" r="0.73" fill="#808080"/><circle cx="118.1" cy="946.07" r="0.73" fill="#808080"/><circle cx="116.81" cy="880.13" r="0.89" fill="#808080"/><circle cx="116.29" cy="941.81" r="0.58" fill="#808080"/><circle cx="118.57" cy="888.54" r="0.78" fill="#808080"/><circle cx="88.76" cy="904.16" r="0.85" fill="#808080"/><circle cx="127.71" cy="878.99" r="0.79" fill="#e8302a"/><circle cx="120.81" cy="901.69" r="1.08" fill="#808080"/><circle cx="130.38" cy="873.93" r="1.06" fill="#808080"/><circle cx="118.99" cy="944.52" r="0.65" fill="#808080"/><circle cx="117.77" cy="946.97" r="0.66" fill="#808080"/><circle cx="68.68" cy="769.15" r="0.7" fill="#808080"/><circle cx="106.84" cy="893.77" r="1.69" fill="#3a5bb5"/><circle cx="113.86" cy="940.07" r="0.62" fill="#808080"/><circle cx="110.05" cy="911.8" r="1.48" fill="#3a5bb5"/><circle cx="118.98" cy="939.65" r="0.89" fill="#808080"/><circle cx="99.63" cy="922.25" r="0.82" fill="#808080"/><circle cx="72.13" cy="888.35" r="0.6" fill="#808080"/><circle cx="133.11" cy="909.69" r="0.75" fill="#808080"/><circle cx="130.76" cy="892.82" r="1.53" fill="#e8302a"/><circle cx="120.56" cy="868.74" r="1.09" fill="#e8302a"/><circle cx="103.01" cy="867.95" r="1.21" fill="#3a5bb5"/><circle cx="123.35" cy="940.06" r="0.73" fill="#808080"/><circle cx="131.15" cy="889.92" r="0.78" fill="#e8302a"/><circle cx="142.66" cy="889.24" r="0.91" fill="#808080"/><circle cx="122.02" cy="939.66" r="0.72" fill="#808080"/><circle cx="112.17" cy="897.8" r="0.86" fill="#808080"/><circle cx="117.5" cy="947.96" r="0.75" fill="#808080"/><circle cx="124.84" cy="874.06" r="1.05" fill="#e8302a"/><circle cx="124.35" cy="876.51" r="0.8" fill="#e8302a"/><circle cx="118.03" cy="945.8" r="0.72" fill="#808080"/><circle cx="118.47" cy="936.1" r="0.59" fill="#808080"/><circle cx="128.97" cy="890.14" r="0.7" fill="#e8302a"/><circle cx="120.2" cy="928.91" r="0.9" fill="#808080"/><circle cx="124.71" cy="899.64" r="1.09" fill="#e8302a"/><circle cx="106.22" cy="925.23" r="0.62" fill="#808080"/><circle cx="101.33" cy="897.91" r="0.61" fill="#3a5bb5"/><circle cx="127.61" cy="859.89" r="1.26" fill="#e8302a"/><circle cx="152.65" cy="915.82" r="0.82" fill="#808080"/><circle cx="119.95" cy="946.27" r="0.78" fill="#808080"/><circle cx="111.63" cy="907.86" r="0.76" fill="#808080"/><circle cx="118.88" cy="943.82" r="0.89" fill="#808080"/><circle cx="110.78" cy="879.13" r="1.53" fill="#3a5bb5"/><circle cx="122.09" cy="907.63" r="1.6" fill="#e8302a"/><circle cx="104.44" cy="881.14" r="1.07" fill="#3a5bb5"/><circle cx="126.79" cy="888.09" r="0.72" fill="#808080"/><circle cx="124.9" cy="880.11" r="1.45" fill="#e8302a"/><circle cx="113.92" cy="936.01" r="0.85" fill="#808080"/><circle cx="114.34" cy="937.6" r="0.65" fill="#808080"/><circle cx="121.44" cy="929.13" r="0.64" fill="#808080"/><circle cx="110.03" cy="929.56" r="0.62" fill="#808080"/><circle cx="114.38" cy="940.33" r="0.59" fill="#808080"/><circle cx="112.51" cy="931.02" r="0.62" fill="#808080"/><circle cx="102.07" cy="875.99" r="1.44" fill="#3a5bb5"/><circle cx="120.45" cy="936.76" r="0.8" fill="#808080"/><circle cx="92.46" cy="914.13" r="0.64" fill="#808080"/><circle cx="131.26" cy="913.72" r="0.77" fill="#808080"/><circle cx="118.41" cy="947.59" r="0.6" fill="#808080"/><circle cx="109.76" cy="837.56" r="1.19" fill="#3a5bb5"/><circle cx="106.95" cy="845.11" r="0.71" fill="#808080"/><circle cx="100.92" cy="909.69" r="0.82" fill="#3a5bb5"/><circle cx="119.01" cy="937.3" r="0.57" fill="#808080"/><circle cx="117.88" cy="944.39" r="0.56" fill="#808080"/><circle cx="119.11" cy="943.05" r="0.52" fill="#808080"/><circle cx="104.99" cy="869.44" r="0.83" fill="#808080"/><circle cx="67.77" cy="899.67" r="0.6" fill="#808080"/><circle cx="123.18" cy="890.11" r="0.71" fill="#e8302a"/><circle cx="113.58" cy="944.02" r="0.81" fill="#808080"/><circle cx="148.44" cy="909.52" r="0.76" fill="#808080"/><circle cx="113.04" cy="932.92" r="0.59" fill="#808080"/><circle cx="114.71" cy="946.19" r="0.69" fill="#808080"/><circle cx="93.83" cy="889.76" r="0.76" fill="#808080"/><circle cx="116.9" cy="902.01" r="0.66" fill="#808080"/><circle cx="91.18" cy="924.05" r="0.64" fill="#808080"/><circle cx="117.49" cy="935.57" r="0.79" fill="#808080"/><circle cx="116.34" cy="944.22" r="0.71" fill="#808080"/><circle cx="112.89" cy="926.78" r="0.57" fill="#808080"/><circle cx="109.6" cy="893.29" r="1.28" fill="#3a5bb5"/><circle cx="162.33" cy="908.5" r="0.6" fill="#808080"/><circle cx="107.49" cy="904.38" r="0.89" fill="#3a5bb5"/><circle cx="116.35" cy="941.54" r="0.8" fill="#808080"/><circle cx="103.79" cy="901.47" r="0.87" fill="#808080"/><circle cx="144.97" cy="902.62" r="1.24" fill="#e8302a"/><circle cx="104.76" cy="923.66" r="0.63" fill="#808080"/><circle cx="133.66" cy="890.01" r="1.17" fill="#e8302a"/><circle cx="129.59" cy="919.11" r="0.82" fill="#808080"/><circle cx="117.51" cy="929.07" r="0.8" fill="#808080"/><circle cx="101.44" cy="916.74" r="0.58" fill="#808080"/><circle cx="120.81" cy="919.94" r="0.78" fill="#808080"/><circle cx="140.28" cy="771.88" r="1.2" fill="#e8302a"/><circle cx="82.98" cy="907.47" r="1" fill="#808080"/><circle cx="101.39" cy="825.14" r="1.3" fill="#3a5bb5"/><circle cx="118.09" cy="938.68" r="0.75" fill="#808080"/><circle cx="115.01" cy="927.46" r="0.69" fill="#808080"/><circle cx="118.25" cy="926.06" r="0.71" fill="#808080"/><circle cx="123.54" cy="939.13" r="0.55" fill="#808080"/><circle cx="124.29" cy="936.19" r="0.86" fill="#808080"/><circle cx="133.49" cy="939.31" r="0.51" fill="#808080"/><circle cx="66.03" cy="872.93" r="1.3" fill="#3a5bb5"/><circle cx="127.91" cy="882.48" r="0.77" fill="#808080"/><circle cx="116.42" cy="935.72" r="0.61" fill="#808080"/><circle cx="143.28" cy="923.96" r="0.53" fill="#808080"/><circle cx="118.62" cy="914.91" r="0.83" fill="#808080"/><circle cx="118.91" cy="915.75" r="0.71" fill="#808080"/><circle cx="119.9" cy="947.15" r="0.87" fill="#808080"/><circle cx="124.19" cy="891.11" r="1.31" fill="#e8302a"/><circle cx="118.43" cy="944.36" r="0.78" fill="#808080"/><circle cx="101.94" cy="840.47" r="1.47" fill="#3a5bb5"/><circle cx="109.89" cy="890.73" r="0.63" fill="#3a5bb5"/><circle cx="112.65" cy="938.72" r="0.86" fill="#808080"/><circle cx="118.16" cy="947.82" r="0.74" fill="#808080"/><circle cx="115.09" cy="942.94" r="0.77" fill="#808080"/><circle cx="115.11" cy="879.64" r="1.09" fill="#3a5bb5"/><circle cx="140" cy="910.47" r="0.88" fill="#808080"/><circle cx="116.47" cy="939.23" r="0.9" fill="#808080"/><circle cx="142.95" cy="855.22" r="1.03" fill="#808080"/><circle cx="114.72" cy="933.67" r="0.68" fill="#808080"/><circle cx="119.35" cy="948.06" r="0.76" fill="#808080"/><circle cx="115.26" cy="925.69" r="0.61" fill="#808080"/><circle cx="119.55" cy="940.87" r="0.73" fill="#808080"/><circle cx="118.79" cy="946.76" r="0.68" fill="#808080"/><circle cx="122.43" cy="895.8" r="1.35" fill="#e8302a"/><circle cx="118.99" cy="945.32" r="0.66" fill="#808080"/><circle cx="113.44" cy="935.83" r="0.7" fill="#808080"/><circle cx="108.1" cy="935.41" r="0.76" fill="#808080"/><circle cx="111.12" cy="922.61" r="0.8" fill="#808080"/><circle cx="164.15" cy="878.39" r="1.2" fill="#e8302a"/><circle cx="113.73" cy="935.56" r="0.72" fill="#808080"/><circle cx="116.54" cy="913.42" r="0.69" fill="#808080"/><circle cx="117.15" cy="927.45" r="0.6" fill="#808080"/><circle cx="114.01" cy="908.73" r="0.74" fill="#808080"/><circle cx="108.44" cy="907.1" r="1" fill="#808080"/><circle cx="123.06" cy="927.46" r="0.65" fill="#808080"/><circle cx="118.71" cy="941.34" r="0.87" fill="#808080"/><circle cx="135.56" cy="896.42" r="0.91" fill="#e8302a"/><circle cx="122.24" cy="934.71" r="0.6" fill="#808080"/><circle cx="116.48" cy="939.79" r="0.56" fill="#808080"/><circle cx="111.73" cy="870.5" r="1.65" fill="#3a5bb5"/><circle cx="121.05" cy="922.3" r="0.81" fill="#808080"/><circle cx="119.1" cy="939.79" r="0.8" fill="#808080"/><circle cx="119.95" cy="933.03" r="0.58" fill="#808080"/><circle cx="106.87" cy="930.7" r="0.56" fill="#808080"/><circle cx="105.84" cy="903.67" r="0.97" fill="#808080"/><circle cx="91.86" cy="903.93" r="1.07" fill="#808080"/><circle cx="122.02" cy="936.18" r="0.62" fill="#808080"/><circle cx="122.5" cy="918.58" r="0.54" fill="#808080"/><circle cx="125.5" cy="939.63" r="0.54" fill="#808080"/><circle cx="113.25" cy="931.55" r="0.82" fill="#808080"/><circle cx="115.44" cy="933.45" r="0.72" fill="#808080"/><circle cx="121.63" cy="878.21" r="0.8" fill="#e8302a"/><circle cx="119.65" cy="938.4" r="0.73" fill="#808080"/><circle cx="132.29" cy="926.97" r="0.56" fill="#808080"/><circle cx="119.78" cy="944.37" r="0.7" fill="#808080"/><circle cx="127.19" cy="909.63" r="1.43" fill="#e8302a"/><circle cx="114.01" cy="939.11" r="0.51" fill="#808080"/><circle cx="112.94" cy="861.75" r="0.83" fill="#808080"/><circle cx="117.62" cy="942.84" r="0.58" fill="#808080"/><circle cx="124.5" cy="865.78" r="0.84" fill="#e8302a"/><circle cx="127.23" cy="925.92" r="0.82" fill="#808080"/><circle cx="117.23" cy="946.1" r="0.77" fill="#808080"/><circle cx="119.39" cy="930.03" r="0.87" fill="#808080"/><circle cx="111.42" cy="927.28" r="0.83" fill="#808080"/><circle cx="117.75" cy="947.06" r="0.59" fill="#808080"/><circle cx="123.36" cy="935.8" r="0.9" fill="#808080"/><circle cx="114.16" cy="921.52" r="0.68" fill="#808080"/><circle cx="146.15" cy="862.06" r="0.72" fill="#808080"/><circle cx="114.31" cy="890.76" r="1.44" fill="#3a5bb5"/><circle cx="114.47" cy="932.16" r="0.73" fill="#808080"/><circle cx="115.84" cy="925.68" r="0.85" fill="#808080"/><circle cx="114" cy="944.57" r="0.63" fill="#808080"/><circle cx="64.26" cy="889.32" r="0.7" fill="#808080"/><circle cx="107.42" cy="853.51" r="0.68" fill="#808080"/><circle cx="134.88" cy="890.94" r="0.88" fill="#808080"/><circle cx="120.57" cy="931.74" r="0.82" fill="#808080"/><circle cx="87.99" cy="905.25" r="0.69" fill="#808080"/><circle cx="113.68" cy="933.54" r="0.74" fill="#808080"/><circle cx="115.43" cy="937.7" r="0.87" fill="#808080"/><circle cx="106.36" cy="893.33" r="0.85" fill="#808080"/><circle cx="115.44" cy="938.64" r="0.72" fill="#808080"/><circle cx="120.26" cy="933.32" r="0.61" fill="#808080"/><circle cx="121.35" cy="939.84" r="0.7" fill="#808080"/><circle cx="127.57" cy="929.69" r="0.63" fill="#808080"/><circle cx="123.05" cy="892.43" r="0.96" fill="#808080"/><circle cx="131.37" cy="866.04" r="0.8" fill="#808080"/><circle cx="125.26" cy="818.31" r="1.1" fill="#e8302a"/><circle cx="113.77" cy="935.11" r="0.73" fill="#808080"/><circle cx="107.35" cy="922.47" r="0.59" fill="#808080"/><circle cx="111.03" cy="939.13" r="0.58" fill="#808080"/><circle cx="117.01" cy="949.35" r="0.9" fill="#808080"/><circle cx="118.03" cy="947.69" r="0.65" fill="#808080"/><circle cx="101.42" cy="930.17" r="0.6" fill="#808080"/><circle cx="120.94" cy="937.29" r="0.63" fill="#808080"/><circle cx="105.28" cy="904.05" r="1.18" fill="#3a5bb5"/><circle cx="127.79" cy="935.86" r="0.8" fill="#808080"/><circle cx="116.31" cy="948.76" r="0.83" fill="#808080"/><circle cx="126.62" cy="910.85" r="0.66" fill="#808080"/><circle cx="125.75" cy="871.07" r="1.06" fill="#808080"/><circle cx="129.34" cy="913.2" r="0.75" fill="#808080"/><circle cx="115.81" cy="938.66" r="0.8" fill="#808080"/><circle cx="138.58" cy="913.61" r="0.79" fill="#808080"/><circle cx="109.53" cy="897.85" r="0.83" fill="#808080"/><circle cx="138.82" cy="874.23" r="1.27" fill="#e8302a"/><circle cx="116.72" cy="920.56" r="0.84" fill="#808080"/><circle cx="69.56" cy="898.88" r="1.1" fill="#3a5bb5"/><circle cx="93.02" cy="924.23" r="0.84" fill="#808080"/><circle cx="117.56" cy="943.7" r="0.59" fill="#808080"/><circle cx="122.15" cy="882.95" r="1.08" fill="#e8302a"/><circle cx="131.88" cy="932.3" r="0.52" fill="#808080"/><circle cx="118.41" cy="921.02" r="0.62" fill="#808080"/><circle cx="132.72" cy="899.18" r="1.46" fill="#e8302a"/><circle cx="119.51" cy="931.16" r="0.6" fill="#808080"/><circle cx="123.49" cy="911.99" r="1.7" fill="#e8302a"/><circle cx="115.63" cy="922.24" r="0.69" fill="#808080"/><circle cx="121.26" cy="909.55" r="0.66" fill="#808080"/><circle cx="117.64" cy="946.18" r="0.77" fill="#808080"/><circle cx="142.59" cy="910.54" r="1.49" fill="#e8302a"/><circle cx="126.76" cy="892.18" r="1.44" fill="#e8302a"/><circle cx="116.79" cy="949.38" r="0.64" fill="#808080"/><circle cx="151.68" cy="895.55" r="1.04" fill="#808080"/><circle cx="122.59" cy="881.21" r="1.05" fill="#808080"/><circle cx="124.9" cy="926.04" r="0.74" fill="#808080"/><circle cx="157.08" cy="821.04" r="0.7" fill="#808080"/><circle cx="113.17" cy="891" r="0.91" fill="#808080"/><circle cx="109.96" cy="876.17" r="1.17" fill="#3a5bb5"/><circle cx="86.5" cy="898.89" r="1.05" fill="#808080"/><circle cx="118.39" cy="944.68" r="0.65" fill="#808080"/><circle cx="116.46" cy="945.05" r="0.77" fill="#808080"/><circle cx="107.15" cy="842.63" r="1.07" fill="#808080"/><circle cx="113.56" cy="936.1" r="0.59" fill="#808080"/><circle cx="118.01" cy="924.59" r="0.65" fill="#808080"/><circle cx="132.37" cy="915.99" r="0.84" fill="#808080"/><circle cx="142.23" cy="902.91" r="0.86" fill="#e8302a"/><circle cx="83.69" cy="910.3" r="0.81" fill="#808080"/><circle cx="119.41" cy="944.1" r="0.73" fill="#808080"/><circle cx="101.47" cy="878.31" r="1.1" fill="#808080"/><circle cx="123.56" cy="883.47" r="1.01" fill="#808080"/><circle cx="140.09" cy="887.16" r="1.36" fill="#e8302a"/><circle cx="108.31" cy="896.77" r="0.78" fill="#3a5bb5"/><circle cx="115.91" cy="937.71" r="0.66" fill="#808080"/><circle cx="98.74" cy="909.19" r="0.7" fill="#808080"/><circle cx="113.33" cy="916.61" r="0.58" fill="#808080"/><circle cx="146.67" cy="909.29" r="1.35" fill="#e8302a"/><circle cx="110.05" cy="840.28" r="1.31" fill="#3a5bb5"/><circle cx="138.23" cy="924.76" r="0.7" fill="#808080"/><circle cx="125" cy="891.47" r="1.31" fill="#e8302a"/><circle cx="118.58" cy="926.85" r="0.71" fill="#808080"/><circle cx="97.85" cy="827.87" r="1.2" fill="#3a5bb5"/><circle cx="122.05" cy="915.15" r="0.78" fill="#808080"/><circle cx="132.02" cy="917.86" r="0.8" fill="#808080"/><circle cx="114.73" cy="921.44" r="0.63" fill="#808080"/><circle cx="117.02" cy="946.03" r="0.57" fill="#808080"/><circle cx="122.04" cy="911.42" r="1.05" fill="#808080"/><circle cx="146.63" cy="906.78" r="1.08" fill="#e8302a"/><circle cx="116.65" cy="926.67" r="0.79" fill="#808080"/><circle cx="108.72" cy="917.54" r="0.7" fill="#808080"/><circle cx="117.56" cy="943.14" r="0.63" fill="#808080"/><circle cx="102.69" cy="908.8" r="0.98" fill="#808080"/><circle cx="132.75" cy="905.85" r="1.05" fill="#808080"/><circle cx="124.44" cy="926.15" r="0.54" fill="#808080"/><circle cx="101.58" cy="914.67" r="0.71" fill="#808080"/><circle cx="114.39" cy="941.08" r="0.82" fill="#808080"/><circle cx="116.7" cy="941.63" r="0.56" fill="#808080"/><circle cx="122.19" cy="869.61" r="0.93" fill="#e8302a"/><circle cx="136.57" cy="895.95" r="0.72" fill="#808080"/><circle cx="138.72" cy="894.59" r="0.72" fill="#808080"/><circle cx="131.45" cy="914.58" r="0.72" fill="#808080"/><circle cx="112.98" cy="888.22" r="1.59" fill="#3a5bb5"/><circle cx="116.13" cy="935.14" r="0.82" fill="#808080"/><circle cx="116.78" cy="938.8" r="0.86" fill="#808080"/><circle cx="116.35" cy="948.92" r="0.86" fill="#808080"/><circle cx="118.65" cy="944.98" r="0.57" fill="#808080"/><circle cx="132.24" cy="898.43" r="0.86" fill="#808080"/><circle cx="107.58" cy="911.12" r="0.91" fill="#808080"/><circle cx="105.81" cy="791" r="1.2" fill="#3a5bb5"/><circle cx="106.16" cy="876.41" r="0.66" fill="#808080"/><circle cx="116.88" cy="944.83" r="0.59" fill="#808080"/><circle cx="112.83" cy="939.64" r="0.65" fill="#808080"/><circle cx="117.57" cy="925.67" r="0.74" fill="#808080"/><circle cx="119.84" cy="934.43" r="0.75" fill="#808080"/><circle cx="113.34" cy="879.68" r="1.54" fill="#3a5bb5"/><circle cx="88.62" cy="912.87" r="0.88" fill="#808080"/><circle cx="94.29" cy="909.16" r="0.81" fill="#808080"/><circle cx="119.93" cy="935.59" r="0.77" fill="#808080"/><circle cx="110.18" cy="902.61" r="0.62" fill="#3a5bb5"/><circle cx="115.22" cy="933.54" r="0.62" fill="#808080"/><circle cx="118.52" cy="934.73" r="0.69" fill="#808080"/><circle cx="123" cy="935.34" r="0.72" fill="#808080"/><circle cx="108.73" cy="884.05" r="1.16" fill="#3a5bb5"/><circle cx="135.43" cy="888.82" r="0.86" fill="#808080"/><circle cx="101.19" cy="884.83" r="0.71" fill="#808080"/><circle cx="120.13" cy="918.05" r="0.81" fill="#808080"/><circle cx="116.36" cy="933.62" r="0.63" fill="#808080"/><circle cx="102.13" cy="915.69" r="0.64" fill="#808080"/><circle cx="119.54" cy="941.65" r="0.9" fill="#808080"/><circle cx="116.87" cy="925.46" r="0.63" fill="#808080"/><circle cx="128.72" cy="860.22" r="0.96" fill="#808080"/><circle cx="124.01" cy="902.95" r="1.05" fill="#808080"/><circle cx="114.83" cy="937.97" r="0.66" fill="#808080"/><circle cx="119.52" cy="930.74" r="0.83" fill="#808080"/><circle cx="107.57" cy="868.63" r="0.69" fill="#3a5bb5"/><circle cx="114.98" cy="948.5" r="0.7" fill="#808080"/><circle cx="125.84" cy="889.62" r="0.94" fill="#808080"/><circle cx="117.15" cy="917.18" r="0.62" fill="#808080"/><circle cx="112.45" cy="937.92" r="0.81" fill="#808080"/><circle cx="115.55" cy="919.97" r="0.83" fill="#808080"/><circle cx="84.33" cy="882.6" r="0.95" fill="#808080"/><circle cx="136.62" cy="883.2" r="0.74" fill="#808080"/><circle cx="114.88" cy="941.42" r="0.88" fill="#808080"/><circle cx="127.28" cy="900.49" r="0.94" fill="#808080"/><circle cx="79.29" cy="756.86" r="1.9" fill="#3a5bb5"/><circle cx="114.84" cy="857.69" r="0.68" fill="#3a5bb5"/><circle cx="120.63" cy="928.33" r="0.74" fill="#808080"/><circle cx="101.78" cy="865.56" r="1.03" fill="#808080"/><circle cx="110.78" cy="932.29" r="0.85" fill="#808080"/><circle cx="115.15" cy="945.3" r="0.73" fill="#808080"/><circle cx="110.07" cy="898.73" r="1.65" fill="#3a5bb5"/><circle cx="115.53" cy="938.47" r="0.65" fill="#808080"/><circle cx="89.54" cy="910.24" r="0.91" fill="#808080"/><circle cx="112.87" cy="930.14" r="0.69" fill="#808080"/><circle cx="113.61" cy="886.13" r="0.72" fill="#3a5bb5"/><circle cx="143.54" cy="920" r="0.53" fill="#808080"/><circle cx="116.86" cy="940.07" r="0.62" fill="#808080"/><circle cx="117.01" cy="936.68" r="0.75" fill="#808080"/><circle cx="111.09" cy="912.21" r="0.63" fill="#3a5bb5"/><circle cx="97.13" cy="899.01" r="0.92" fill="#808080"/><circle cx="118.15" cy="944.13" r="0.66" fill="#808080"/><circle cx="119.76" cy="940.77" r="0.59" fill="#808080"/><circle cx="112.41" cy="859.45" r="1.41" fill="#3a5bb5"/><circle cx="119.16" cy="938.14" r="0.78" fill="#808080"/><circle cx="99.88" cy="886.47" r="1.07" fill="#808080"/><circle cx="121.29" cy="922.48" r="0.87" fill="#808080"/><circle cx="131.13" cy="884.24" r="1.07" fill="#808080"/><circle cx="106.82" cy="878.91" r="0.68" fill="#3a5bb5"/><circle cx="126.12" cy="873.15" r="0.89" fill="#e8302a"/><circle cx="96.55" cy="917.1" r="0.83" fill="#808080"/><circle cx="121.78" cy="909.98" r="0.66" fill="#e8302a"/><circle cx="119.09" cy="936.54" r="0.62" fill="#808080"/><circle cx="118.7" cy="947.17" r="0.59" fill="#808080"/><circle cx="118.41" cy="941.86" r="0.89" fill="#808080"/><circle cx="125.46" cy="869.07" r="1.14" fill="#e8302a"/><circle cx="180.82" cy="878.51" r="0.6" fill="#808080"/><circle cx="117.99" cy="948.16" r="0.55" fill="#808080"/><circle cx="120.77" cy="922.18" r="0.61" fill="#808080"/><circle cx="111.75" cy="906.11" r="1.08" fill="#3a5bb5"/><circle cx="115.88" cy="932.78" r="0.62" fill="#808080"/><circle cx="124.61" cy="869.26" r="1.22" fill="#e8302a"/><circle cx="147.36" cy="853.81" r="1.2" fill="#e8302a"/><circle cx="121.98" cy="932.63" r="0.78" fill="#808080"/><circle cx="121.16" cy="899.67" r="1.2" fill="#e8302a"/><circle cx="115.29" cy="931.08" r="0.69" fill="#808080"/><circle cx="115.82" cy="946.8" r="0.61" fill="#808080"/><circle cx="121.1" cy="939.48" r="0.88" fill="#808080"/><circle cx="119.98" cy="915.02" r="0.66" fill="#808080"/><circle cx="119.1" cy="930.02" r="0.78" fill="#808080"/><circle cx="97.02" cy="871.88" r="0.87" fill="#808080"/><circle cx="124.07" cy="901.03" r="1.02" fill="#808080"/><circle cx="109.33" cy="921.67" r="0.64" fill="#808080"/><circle cx="117.23" cy="943.93" r="0.69" fill="#808080"/><circle cx="122.64" cy="941.81" r="0.78" fill="#808080"/><circle cx="131.06" cy="886.31" r="0.67" fill="#808080"/><circle cx="116.24" cy="949.2" r="0.9" fill="#808080"/><circle cx="112.61" cy="895.03" r="0.82" fill="#3a5bb5"/><circle cx="119.3" cy="941.13" r="0.56" fill="#808080"/><circle cx="116.32" cy="947.08" r="0.58" fill="#808080"/><circle cx="120.4" cy="933.39" r="0.76" fill="#808080"/><circle cx="112.28" cy="866.9" r="1.33" fill="#3a5bb5"/><circle cx="147" cy="911.42" r="0.97" fill="#808080"/><circle cx="108.17" cy="945.02" r="0.5" fill="#808080"/><circle cx="120.38" cy="938.01" r="0.83" fill="#808080"/><circle cx="116.88" cy="936.02" r="0.81" fill="#808080"/><circle cx="134.09" cy="898.01" r="1.67" fill="#e8302a"/><circle cx="119.1" cy="942.34" r="0.58" fill="#808080"/><circle cx="118.41" cy="938.04" r="0.84" fill="#808080"/><circle cx="72.64" cy="888.23" r="0.95" fill="#808080"/><circle cx="117.66" cy="944.9" r="0.68" fill="#808080"/><circle cx="120.64" cy="943.05" r="0.72" fill="#808080"/><circle cx="117.06" cy="932.82" r="0.85" fill="#808080"/><circle cx="116.77" cy="944.61" r="0.7" fill="#808080"/><circle cx="122.77" cy="907.75" r="0.95" fill="#808080"/><circle cx="126.88" cy="928.44" r="0.82" fill="#808080"/><circle cx="231.34" cy="930.28" r="0.7" fill="#808080"/><circle cx="125.84" cy="868.08" r="1.22" fill="#e8302a"/><circle cx="117.96" cy="943.93" r="0.8" fill="#808080"/><circle cx="169.35" cy="859.66" r="0.6" fill="#808080"/><circle cx="150.21" cy="858.51" r="0.6" fill="#808080"/><circle cx="133.5" cy="890.41" r="0.66" fill="#808080"/><circle cx="113.38" cy="928.1" r="0.75" fill="#808080"/><circle cx="109.34" cy="870.25" r="1.62" fill="#3a5bb5"/><circle cx="110.55" cy="863.5" r="0.8" fill="#808080"/><circle cx="120.77" cy="940.33" r="0.62" fill="#808080"/><circle cx="115" cy="936.56" r="0.62" fill="#808080"/><circle cx="126.26" cy="894.56" r="0.71" fill="#e8302a"/><circle cx="127.81" cy="913.86" r="0.7" fill="#808080"/><circle cx="135.24" cy="878.19" r="0.97" fill="#808080"/><circle cx="132.72" cy="934.92" r="0.6" fill="#808080"/><circle cx="144.36" cy="869.13" r="0.68" fill="#808080"/><circle cx="122.49" cy="908.14" r="0.89" fill="#808080"/><circle cx="111.06" cy="846.37" r="0.96" fill="#808080"/><circle cx="121.88" cy="885.9" r="1.05" fill="#808080"/><circle cx="86.86" cy="900.35" r="0.69" fill="#808080"/><circle cx="116.29" cy="946.43" r="0.83" fill="#808080"/><circle cx="124.3" cy="890.8" r="0.83" fill="#808080"/><circle cx="109.26" cy="908.76" r="0.79" fill="#808080"/><circle cx="90.78" cy="886.59" r="0.7" fill="#808080"/><circle cx="118.57" cy="946.13" r="0.61" fill="#808080"/><circle cx="117.94" cy="948" r="0.59" fill="#808080"/><circle cx="105.92" cy="902.56" r="0.75" fill="#808080"/><circle cx="125.66" cy="829.53" r="0.82" fill="#808080"/><circle cx="115.62" cy="918.85" r="0.63" fill="#808080"/><circle cx="117.89" cy="949.36" r="0.74" fill="#808080"/><circle cx="127.82" cy="908.03" r="1.17" fill="#e8302a"/><circle cx="99.62" cy="766.42" r="1.5" fill="#3a5bb5"/><circle cx="121.12" cy="883.6" r="0.73" fill="#808080"/><circle cx="118.81" cy="943.67" r="0.76" fill="#808080"/><circle cx="117.56" cy="941.19" r="0.89" fill="#808080"/><circle cx="123.35" cy="927.71" r="0.82" fill="#808080"/><circle cx="115.11" cy="934.47" r="0.69" fill="#808080"/><circle cx="116.57" cy="939.56" r="0.74" fill="#808080"/><circle cx="139.4" cy="836.06" r="1.9" fill="#e8302a"/><circle cx="76.76" cy="901.95" r="0.95" fill="#808080"/><circle cx="119.35" cy="851.18" r="0.83" fill="#808080"/><circle cx="134.49" cy="898.25" r="1.36" fill="#e8302a"/><circle cx="129.81" cy="897.09" r="1.03" fill="#808080"/><circle cx="116.23" cy="881.26" r="0.95" fill="#808080"/><circle cx="116.51" cy="942.23" r="0.56" fill="#808080"/><circle cx="130.32" cy="937.31" r="0.82" fill="#808080"/><circle cx="119.9" cy="944.5" r="0.69" fill="#808080"/><circle cx="124.01" cy="906.48" r="1.05" fill="#808080"/><circle cx="122.68" cy="861.47" r="0.77" fill="#e8302a"/><circle cx="116.68" cy="944.86" r="0.68" fill="#808080"/><circle cx="134.44" cy="923.49" r="0.68" fill="#808080"/><circle cx="118.31" cy="943.09" r="0.63" fill="#808080"/><circle cx="114.85" cy="947.5" r="0.65" fill="#808080"/><circle cx="121.94" cy="943.99" r="0.83" fill="#808080"/><circle cx="143.55" cy="913.43" r="0.9" fill="#808080"/><circle cx="149.12" cy="804.66" r="0.7" fill="#808080"/><circle cx="113.8" cy="880.72" r="1.04" fill="#3a5bb5"/><circle cx="108.67" cy="899.04" r="1.65" fill="#3a5bb5"/><circle cx="114.22" cy="911.17" r="0.92" fill="#808080"/><circle cx="120.85" cy="880.1" r="0.66" fill="#808080"/><circle cx="102.67" cy="928.98" r="0.78" fill="#808080"/><circle cx="123.3" cy="912.37" r="0.67" fill="#808080"/><circle cx="117.62" cy="917.84" r="0.6" fill="#808080"/><circle cx="120.38" cy="902.24" r="1.5" fill="#e8302a"/><circle cx="119.65" cy="925.49" r="0.73" fill="#808080"/><circle cx="99.62" cy="788.27" r="0.7" fill="#808080"/><circle cx="142.12" cy="907.32" r="0.7" fill="#808080"/><circle cx="107.68" cy="879.68" r="1.08" fill="#808080"/><circle cx="131.49" cy="920.4" r="0.71" fill="#808080"/><circle cx="137.98" cy="910.4" r="1.3" fill="#e8302a"/><circle cx="106.75" cy="926.73" r="0.7" fill="#808080"/><circle cx="114.32" cy="934.48" r="0.84" fill="#808080"/><circle cx="119.66" cy="923.65" r="0.69" fill="#808080"/><circle cx="177.41" cy="924.82" r="0.7" fill="#808080"/><circle cx="124.87" cy="881.15" r="1.5" fill="#e8302a"/><circle cx="136.66" cy="902.62" r="1.05" fill="#e8302a"/><circle cx="123.74" cy="879.86" r="0.66" fill="#e8302a"/><circle cx="109.98" cy="934.64" r="0.61" fill="#808080"/><circle cx="119.31" cy="937.71" r="0.79" fill="#808080"/><circle cx="120.66" cy="899.38" r="0.84" fill="#808080"/><circle cx="95.2" cy="793.73" r="1.9" fill="#3a5bb5"/><circle cx="117.19" cy="943.75" r="0.62" fill="#808080"/><circle cx="117.09" cy="948.76" r="0.62" fill="#808080"/><circle cx="127.88" cy="882.77" r="0.74" fill="#808080"/><circle cx="134.8" cy="921.49" r="0.54" fill="#808080"/><circle cx="108.57" cy="910.54" r="0.68" fill="#3a5bb5"/><circle cx="118.67" cy="944.57" r="0.69" fill="#808080"/><circle cx="117.52" cy="943.23" r="0.56" fill="#808080"/><circle cx="117.26" cy="944.23" r="0.8" fill="#808080"/><circle cx="114.04" cy="907.07" r="1.5" fill="#3a5bb5"/><circle cx="119.73" cy="938.12" r="0.61" fill="#808080"/><circle cx="113.9" cy="935.83" r="0.65" fill="#808080"/><circle cx="91.21" cy="854.09" r="1.05" fill="#808080"/><circle cx="134.24" cy="899.08" r="0.78" fill="#808080"/><circle cx="116.87" cy="947.21" r="0.74" fill="#808080"/><circle cx="119.98" cy="932.23" r="0.75" fill="#808080"/><circle cx="130.66" cy="872.86" r="1.37" fill="#e8302a"/><circle cx="153.77" cy="870.19" r="1.06" fill="#808080"/><circle cx="118.09" cy="946.66" r="0.8" fill="#808080"/><circle cx="117.86" cy="946.23" r="0.67" fill="#808080"/><circle cx="123.15" cy="911.3" r="0.79" fill="#e8302a"/><circle cx="115.71" cy="943.8" r="0.65" fill="#808080"/><circle cx="105.28" cy="921.35" r="0.64" fill="#808080"/><circle cx="112.16" cy="906.6" r="1.07" fill="#808080"/><circle cx="122.95" cy="871.44" r="0.86" fill="#808080"/><circle cx="95.6" cy="866.6" r="0.67" fill="#808080"/><circle cx="130.03" cy="909.85" r="1.04" fill="#e8302a"/><circle cx="119.05" cy="937.38" r="0.78" fill="#808080"/><circle cx="133.68" cy="893.67" r="0.99" fill="#e8302a"/><circle cx="105.94" cy="860.35" r="0.66" fill="#808080"/><circle cx="118.59" cy="943.77" r="0.67" fill="#808080"/><circle cx="116.94" cy="944.21" r="0.59" fill="#808080"/><circle cx="112.26" cy="918.34" r="0.83" fill="#808080"/><circle cx="109.61" cy="904.72" r="0.77" fill="#3a5bb5"/><circle cx="121.13" cy="928.77" r="0.89" fill="#808080"/><circle cx="124.34" cy="874.5" r="0.93" fill="#808080"/><circle cx="124.39" cy="908.37" r="1.01" fill="#808080"/><circle cx="116.59" cy="942.42" r="0.69" fill="#808080"/><circle cx="123.75" cy="893.16" r="0.83" fill="#e8302a"/><circle cx="124.86" cy="865.01" r="1.52" fill="#e8302a"/><circle cx="117.01" cy="947.1" r="0.85" fill="#808080"/><circle cx="125.78" cy="900.96" r="0.89" fill="#808080"/><circle cx="109.54" cy="882.51" r="0.79" fill="#3a5bb5"/><circle cx="150.4" cy="902.97" r="0.88" fill="#808080"/><circle cx="115.82" cy="881.4" r="0.6" fill="#808080"/><circle cx="113.23" cy="900.78" r="1.48" fill="#3a5bb5"/><circle cx="108.08" cy="877.47" r="1.2" fill="#3a5bb5"/><circle cx="110.75" cy="901.38" r="1.08" fill="#808080"/><circle cx="87.19" cy="888.91" r="0.67" fill="#808080"/><circle cx="131.16" cy="918.56" r="0.6" fill="#808080"/><circle cx="116.35" cy="942.44" r="0.6" fill="#808080"/><circle cx="99.93" cy="870.8" r="0.74" fill="#808080"/><circle cx="110.06" cy="864.14" r="1.23" fill="#3a5bb5"/><circle cx="130.67" cy="878.69" r="1.7" fill="#e8302a"/><circle cx="117.7" cy="944.3" r="0.77" fill="#808080"/><circle cx="133.51" cy="891.31" r="1.08" fill="#808080"/><circle cx="136.27" cy="932.54" r="0.71" fill="#808080"/><circle cx="119.98" cy="940.5" r="0.78" fill="#808080"/><circle cx="127.6" cy="891.8" r="0.95" fill="#e8302a"/><circle cx="115.6" cy="926.79" r="0.73" fill="#808080"/><circle cx="121.55" cy="888.87" r="0.93" fill="#808080"/><circle cx="119.69" cy="929.3" r="0.55" fill="#808080"/><circle cx="111.29" cy="908.82" r="0.63" fill="#3a5bb5"/><circle cx="118.53" cy="948.61" r="0.88" fill="#808080"/><circle cx="129.01" cy="914.25" r="0.61" fill="#808080"/><circle cx="87.65" cy="926.97" r="0.61" fill="#808080"/><circle cx="89.9" cy="793.73" r="1.9" fill="#3a5bb5"/><circle cx="128.03" cy="941.87" r="0.61" fill="#808080"/><circle cx="89.36" cy="905.71" r="0.68" fill="#808080"/><circle cx="121.94" cy="936.29" r="0.61" fill="#808080"/><circle cx="139.28" cy="871.52" r="0.6" fill="#808080"/><circle cx="119.14" cy="930.1" r="0.82" fill="#808080"/><circle cx="118.82" cy="935.28" r="0.63" fill="#808080"/><circle cx="141.43" cy="905.67" r="0.75" fill="#808080"/><circle cx="120.33" cy="891.37" r="0.7" fill="#808080"/><circle cx="118.86" cy="929.34" r="0.87" fill="#808080"/><circle cx="95.99" cy="910.92" r="0.94" fill="#808080"/><circle cx="114.13" cy="941.9" r="0.76" fill="#808080"/><circle cx="113.13" cy="943.8" r="0.82" fill="#808080"/><circle cx="118.28" cy="946.72" r="0.83" fill="#808080"/><circle cx="106.5" cy="927.73" r="0.84" fill="#808080"/><circle cx="134.33" cy="887.75" r="1.03" fill="#808080"/><circle cx="131.52" cy="868.25" r="0.91" fill="#e8302a"/><circle cx="139.94" cy="883.44" r="0.68" fill="#808080"/><circle cx="118.41" cy="927.57" r="0.72" fill="#808080"/><circle cx="118.79" cy="931.1" r="0.69" fill="#808080"/><circle cx="116.87" cy="943.58" r="0.88" fill="#808080"/><circle cx="129.73" cy="904.35" r="1.44" fill="#e8302a"/><circle cx="121.43" cy="908.18" r="0.72" fill="#808080"/><circle cx="122.77" cy="937.27" r="0.57" fill="#808080"/><circle cx="152.72" cy="895.58" r="0.6" fill="#808080"/><circle cx="112.65" cy="929.22" r="0.59" fill="#808080"/><circle cx="119.02" cy="944.28" r="0.58" fill="#808080"/><circle cx="129.66" cy="860.68" r="0.89" fill="#808080"/><circle cx="125.78" cy="911.91" r="1.69" fill="#e8302a"/><circle cx="113.55" cy="933.62" r="0.58" fill="#808080"/><circle cx="116.89" cy="943.2" r="0.84" fill="#808080"/><circle cx="111.52" cy="944.67" r="0.74" fill="#808080"/><circle cx="115.19" cy="910.96" r="0.67" fill="#3a5bb5"/><circle cx="115.85" cy="938.31" r="0.53" fill="#808080"/><circle cx="117.81" cy="915.64" r="0.81" fill="#808080"/><circle cx="117.64" cy="934.81" r="0.67" fill="#808080"/><circle cx="86.47" cy="923.79" r="0.78" fill="#808080"/><circle cx="115.83" cy="933.8" r="0.8" fill="#808080"/><circle cx="95.68" cy="866.16" r="1.09" fill="#808080"/><circle cx="141.57" cy="918.29" r="0.64" fill="#808080"/><circle cx="113.24" cy="859.6" r="1.04" fill="#3a5bb5"/><circle cx="117.33" cy="945.48" r="0.83" fill="#808080"/><circle cx="108.61" cy="906.99" r="1" fill="#3a5bb5"/><circle cx="116.07" cy="921.78" r="0.69" fill="#808080"/><circle cx="111.24" cy="926.17" r="0.71" fill="#808080"/><circle cx="114.6" cy="925.53" r="0.74" fill="#808080"/><circle cx="117.86" cy="944.36" r="0.86" fill="#808080"/><circle cx="145.78" cy="906.15" r="0.89" fill="#808080"/><circle cx="118.92" cy="923.98" r="0.68" fill="#808080"/><circle cx="118.72" cy="929.92" r="0.85" fill="#808080"/><circle cx="117.04" cy="949.25" r="0.63" fill="#808080"/><circle cx="115.34" cy="935.76" r="0.59" fill="#808080"/><circle cx="115.25" cy="940.16" r="0.62" fill="#808080"/><circle cx="110.88" cy="896.28" r="0.69" fill="#3a5bb5"/><circle cx="120.33" cy="925.87" r="0.63" fill="#808080"/><circle cx="109.92" cy="874.36" r="0.79" fill="#808080"/><circle cx="120.29" cy="940.42" r="0.73" fill="#808080"/><circle cx="107.36" cy="932.46" r="0.83" fill="#808080"/><circle cx="112.81" cy="929.3" r="0.64" fill="#808080"/><circle cx="134.92" cy="878.85" r="0.82" fill="#808080"/><circle cx="111.38" cy="887.79" r="0.81" fill="#808080"/><circle cx="121" cy="922.36" r="0.61" fill="#808080"/><circle cx="132.49" cy="893.42" r="0.74" fill="#808080"/><circle cx="117.38" cy="943.64" r="0.53" fill="#808080"/><circle cx="107" cy="924.47" r="0.6" fill="#808080"/><circle cx="114.17" cy="933.04" r="0.63" fill="#808080"/><circle cx="110.78" cy="918.39" r="0.56" fill="#808080"/><circle cx="103.68" cy="915.49" r="0.54" fill="#808080"/><circle cx="64.78" cy="925.14" r="0.6" fill="#808080"/><circle cx="118.49" cy="945.7" r="0.87" fill="#808080"/><circle cx="135.6" cy="920.48" r="0.69" fill="#808080"/><circle cx="114.41" cy="946.53" r="0.81" fill="#808080"/><circle cx="111.2" cy="923.52" r="0.54" fill="#808080"/><circle cx="116.67" cy="936.04" r="0.67" fill="#808080"/><circle cx="112.93" cy="932.99" r="0.62" fill="#808080"/><circle cx="140.59" cy="886.06" r="0.88" fill="#808080"/><circle cx="125.08" cy="912.73" r="1.09" fill="#808080"/><circle cx="81.24" cy="869.43" r="0.6" fill="#808080"/><circle cx="116.63" cy="939.51" r="0.58" fill="#808080"/><circle cx="113.03" cy="909.2" r="0.68" fill="#808080"/><circle cx="109.64" cy="934.82" r="0.79" fill="#808080"/><circle cx="118.19" cy="948.45" r="0.69" fill="#808080"/><circle cx="127.77" cy="902.75" r="1.06" fill="#808080"/><circle cx="119.24" cy="943.66" r="0.6" fill="#808080"/><circle cx="98.01" cy="909.67" r="1.05" fill="#808080"/><circle cx="121.98" cy="864.97" r="0.76" fill="#808080"/><circle cx="92.96" cy="861.97" r="0.76" fill="#808080"/><circle cx="117.96" cy="949.07" r="0.82" fill="#808080"/><circle cx="137.63" cy="815.58" r="0.7" fill="#808080"/><circle cx="123.52" cy="896.56" r="0.98" fill="#808080"/><circle cx="113.17" cy="909.16" r="0.76" fill="#808080"/><circle cx="132.3" cy="897.64" r="0.96" fill="#808080"/><circle cx="113.34" cy="943.47" r="0.56" fill="#808080"/><circle cx="119.31" cy="947.02" r="0.76" fill="#808080"/><circle cx="118.13" cy="928.14" r="0.63" fill="#808080"/><circle cx="117.57" cy="949.25" r="0.6" fill="#808080"/><circle cx="115.94" cy="939.95" r="0.88" fill="#808080"/><circle cx="118.23" cy="857.31" r="1.09" fill="#808080"/><circle cx="110.99" cy="930.33" r="0.66" fill="#808080"/><circle cx="116.06" cy="948.95" r="0.87" fill="#808080"/><circle cx="108.06" cy="883.55" r="0.83" fill="#808080"/><circle cx="121.92" cy="898.49" r="1.14" fill="#e8302a"/><circle cx="139.41" cy="907.88" r="0.65" fill="#e8302a"/><circle cx="104.94" cy="865.36" r="0.72" fill="#3a5bb5"/><circle cx="131.1" cy="912.04" r="1.64" fill="#e8302a"/><circle cx="129.72" cy="907.27" r="1.46" fill="#e8302a"/><circle cx="117.04" cy="939.9" r="0.62" fill="#808080"/><circle cx="114.37" cy="920.76" r="0.65" fill="#808080"/><circle cx="113.06" cy="905.4" r="0.77" fill="#808080"/><circle cx="135.08" cy="906.54" r="0.92" fill="#808080"/><circle cx="122.15" cy="925.74" r="0.59" fill="#808080"/><circle cx="115.68" cy="943.62" r="0.78" fill="#808080"/><circle cx="110.79" cy="908.05" r="0.91" fill="#808080"/><circle cx="121.98" cy="876.08" r="0.78" fill="#808080"/><circle cx="118.99" cy="918.94" r="0.63" fill="#808080"/><circle cx="130.69" cy="896.09" r="0.94" fill="#808080"/><circle cx="120.89" cy="931.62" r="0.82" fill="#808080"/><circle cx="120.48" cy="942.07" r="0.84" fill="#808080"/><circle cx="118.63" cy="947.72" r="0.63" fill="#808080"/><circle cx="97.09" cy="896.71" r="0.98" fill="#3a5bb5"/><circle cx="121.25" cy="911.69" r="0.72" fill="#808080"/><circle cx="130.33" cy="881.15" r="1.35" fill="#e8302a"/><circle cx="135.47" cy="915.91" r="0.56" fill="#808080"/><circle cx="117.6" cy="949.08" r="0.57" fill="#808080"/><circle cx="115.71" cy="947.37" r="0.7" fill="#808080"/><circle cx="140.17" cy="900.76" r="0.73" fill="#808080"/><circle cx="122.95" cy="938.85" r="0.81" fill="#808080"/><circle cx="116.72" cy="947.91" r="0.71" fill="#808080"/><circle cx="108.76" cy="916.28" r="0.62" fill="#808080"/><circle cx="140.89" cy="911.1" r="1.08" fill="#e8302a"/><circle cx="114.65" cy="921.36" r="0.68" fill="#808080"/><circle cx="112.64" cy="845.97" r="1.38" fill="#3a5bb5"/><circle cx="132.61" cy="868.05" r="0.98" fill="#808080"/><circle cx="114.99" cy="945.45" r="0.65" fill="#808080"/><circle cx="131.15" cy="911.9" r="1.03" fill="#808080"/><circle cx="116.64" cy="942.53" r="0.63" fill="#808080"/><circle cx="105.3" cy="901.61" r="0.64" fill="#3a5bb5"/><circle cx="133.11" cy="881.38" r="0.76" fill="#808080"/><circle cx="128.81" cy="881.54" r="0.69" fill="#808080"/><circle cx="118.63" cy="935.62" r="0.81" fill="#808080"/><circle cx="142.94" cy="838.79" r="1.4" fill="#e8302a"/><circle cx="114.67" cy="902.47" r="0.63" fill="#3a5bb5"/><circle cx="120.27" cy="904.99" r="1.49" fill="#e8302a"/><circle cx="125.2" cy="920.33" r="0.8" fill="#808080"/><circle cx="131.12" cy="883.02" r="1.44" fill="#e8302a"/><circle cx="114.65" cy="941.01" r="0.76" fill="#808080"/><circle cx="111.17" cy="913.84" r="0.95" fill="#808080"/><circle cx="81.96" cy="846.21" r="1.06" fill="#808080"/><circle cx="109.54" cy="924.06" r="0.68" fill="#808080"/><circle cx="117.63" cy="915.96" r="0.5" fill="#808080"/><circle cx="120.74" cy="937.82" r="0.56" fill="#808080"/><circle cx="115.89" cy="915.55" r="0.74" fill="#808080"/><circle cx="101" cy="879.81" r="1.37" fill="#3a5bb5"/><circle cx="108.09" cy="890.27" r="1.35" fill="#3a5bb5"/><circle cx="109.12" cy="924.11" r="0.81" fill="#808080"/><circle cx="110.23" cy="829.24" r="1.8" fill="#3a5bb5"/><circle cx="134.32" cy="933.36" r="0.55" fill="#808080"/><circle cx="166.8" cy="804.66" r="0.7" fill="#808080"/><circle cx="112.27" cy="918.8" r="0.83" fill="#808080"/><circle cx="124.68" cy="855.53" r="0.89" fill="#808080"/><circle cx="123.54" cy="901.56" r="0.94" fill="#808080"/><circle cx="131.57" cy="891.24" r="0.67" fill="#e8302a"/><circle cx="112.6" cy="926.75" r="0.81" fill="#808080"/><circle cx="117.66" cy="948.85" r="0.87" fill="#808080"/><circle cx="125.24" cy="922.95" r="0.56" fill="#808080"/><circle cx="132.38" cy="905.28" r="1.08" fill="#e8302a"/><circle cx="117.39" cy="918.99" r="0.85" fill="#808080"/><circle cx="112.89" cy="878.12" r="0.9" fill="#3a5bb5"/><circle cx="74.6" cy="932.55" r="0.6" fill="#808080"/><circle cx="102.56" cy="877.44" r="0.75" fill="#808080"/><circle cx="117.6" cy="930.92" r="0.8" fill="#808080"/><circle cx="113.68" cy="898.42" r="0.99" fill="#808080"/><circle cx="113.28" cy="926.43" r="0.82" fill="#808080"/><circle cx="115.45" cy="934.35" r="0.83" fill="#808080"/><circle cx="129.28" cy="902.77" r="1.55" fill="#e8302a"/><circle cx="143.9" cy="879.21" r="0.79" fill="#e8302a"/><circle cx="117.5" cy="938.49" r="0.79" fill="#808080"/><circle cx="107.47" cy="868.16" r="1.48" fill="#3a5bb5"/><circle cx="115.09" cy="939.92" r="0.86" fill="#808080"/><circle cx="134.45" cy="904.72" r="0.93" fill="#808080"/><circle cx="139.02" cy="900.59" r="0.79" fill="#808080"/><circle cx="112.34" cy="926.28" r="0.83" fill="#808080"/><circle cx="99.05" cy="927.43" r="0.83" fill="#808080"/><circle cx="111.77" cy="891.04" r="0.66" fill="#808080"/><circle cx="124.69" cy="887.06" r="0.86" fill="#808080"/><circle cx="116.2" cy="940.06" r="0.7" fill="#808080"/><circle cx="113.06" cy="936.67" r="0.68" fill="#808080"/><circle cx="126.26" cy="876.76" r="1.07" fill="#808080"/><circle cx="118.47" cy="931.06" r="0.82" fill="#808080"/><circle cx="121.22" cy="855.8" r="0.9" fill="#e8302a"/><circle cx="126.05" cy="931.22" r="0.6" fill="#808080"/><circle cx="109.22" cy="900.43" r="1.27" fill="#3a5bb5"/><circle cx="109.87" cy="933.39" r="0.6" fill="#808080"/><circle cx="117.59" cy="940.8" r="0.73" fill="#808080"/><circle cx="102.93" cy="915.4" r="0.72" fill="#808080"/><circle cx="117.55" cy="939.58" r="0.59" fill="#808080"/><circle cx="105.49" cy="843.45" r="1.04" fill="#808080"/><circle cx="130.86" cy="912.36" r="1.06" fill="#808080"/><circle cx="153.54" cy="872.93" r="1.2" fill="#e8302a"/><circle cx="125.79" cy="937.48" r="0.59" fill="#808080"/><circle cx="93.74" cy="895.24" r="0.99" fill="#808080"/><circle cx="114.52" cy="921.21" r="0.6" fill="#808080"/><circle cx="119.52" cy="946.47" r="0.83" fill="#808080"/><circle cx="119.9" cy="949.1" r="0.87" fill="#808080"/><circle cx="122.05" cy="884.88" r="0.9" fill="#808080"/><circle cx="116.88" cy="925.74" r="0.78" fill="#808080"/><circle cx="123.72" cy="881.86" r="0.66" fill="#808080"/><circle cx="96.41" cy="905.46" r="0.87" fill="#808080"/><circle cx="78.4" cy="875.66" r="1.1" fill="#3a5bb5"/><circle cx="112.5" cy="925.14" r="0.6" fill="#808080"/><circle cx="117.01" cy="940.26" r="0.82" fill="#808080"/><circle cx="125.64" cy="905.69" r="0.92" fill="#808080"/><circle cx="138.33" cy="901.48" r="0.76" fill="#808080"/><circle cx="116.21" cy="936.67" r="0.83" fill="#808080"/><circle cx="114.43" cy="931.06" r="0.88" fill="#808080"/><circle cx="107.86" cy="932.21" r="0.62" fill="#808080"/><circle cx="122.78" cy="930.01" r="0.7" fill="#808080"/><circle cx="114.62" cy="903.12" r="1.03" fill="#808080"/><circle cx="94.91" cy="901.89" r="0.78" fill="#808080"/><circle cx="124.9" cy="868.59" r="0.71" fill="#808080"/><circle cx="113.26" cy="920.96" r="0.59" fill="#808080"/><circle cx="106.19" cy="886.71" r="0.76" fill="#3a5bb5"/><circle cx="136.39" cy="880.53" r="0.89" fill="#808080"/><circle cx="110.46" cy="863.41" r="1.44" fill="#3a5bb5"/><circle cx="96.78" cy="887.11" r="0.93" fill="#808080"/><circle cx="154.43" cy="877.03" r="1.2" fill="#e8302a"/><circle cx="113.82" cy="911.34" r="1.57" fill="#3a5bb5"/><circle cx="116.88" cy="942.05" r="0.84" fill="#808080"/><circle cx="120.76" cy="935.39" r="0.59" fill="#808080"/><circle cx="116.79" cy="946.43" r="0.64" fill="#808080"/><circle cx="131.21" cy="891.64" r="1.56" fill="#e8302a"/><circle cx="142.72" cy="902.62" r="0.96" fill="#808080"/><circle cx="92.69" cy="906.15" r="0.72" fill="#808080"/><circle cx="103.61" cy="853.87" r="0.76" fill="#808080"/><circle cx="115.9" cy="932.22" r="0.78" fill="#808080"/><circle cx="120.77" cy="941.43" r="0.81" fill="#808080"/><circle cx="124.96" cy="870.63" r="0.9" fill="#808080"/><circle cx="132.29" cy="893.08" r="1.01" fill="#808080"/><circle cx="113.1" cy="936.18" r="0.61" fill="#808080"/><circle cx="124.81" cy="923.75" r="0.83" fill="#808080"/><circle cx="107.62" cy="888.28" r="0.93" fill="#3a5bb5"/><circle cx="116.2" cy="946.54" r="0.55" fill="#808080"/><circle cx="119.77" cy="912.86" r="0.87" fill="#808080"/><circle cx="111.87" cy="901.47" r="0.97" fill="#808080"/><circle cx="107.23" cy="925.24" r="0.51" fill="#808080"/><circle cx="134.9" cy="897.97" r="1.26" fill="#e8302a"/><circle cx="119.11" cy="938.88" r="0.86" fill="#808080"/><circle cx="137.63" cy="918.6" r="0.68" fill="#808080"/><circle cx="117.09" cy="945.96" r="0.66" fill="#808080"/><circle cx="122.4" cy="936.89" r="0.89" fill="#808080"/><circle cx="123.58" cy="887.82" r="1.23" fill="#e8302a"/><circle cx="117.67" cy="943.02" r="0.75" fill="#808080"/><circle cx="117" cy="946.07" r="0.8" fill="#808080"/><circle cx="117.92" cy="945.86" r="0.88" fill="#808080"/><circle cx="116.87" cy="931.85" r="0.73" fill="#808080"/><circle cx="126.03" cy="934.07" r="0.74" fill="#808080"/><circle cx="112.43" cy="887.46" r="1.63" fill="#3a5bb5"/><circle cx="119.13" cy="939.31" r="0.68" fill="#808080"/><circle cx="120.58" cy="900.9" r="0.86" fill="#808080"/><circle cx="130.54" cy="872.81" r="0.86" fill="#e8302a"/><circle cx="114.08" cy="941" r="0.89" fill="#808080"/><circle cx="103.71" cy="874.96" r="1.25" fill="#3a5bb5"/><circle cx="118.86" cy="937.82" r="0.73" fill="#808080"/><circle cx="107.49" cy="921.7" r="0.65" fill="#808080"/><circle cx="114.25" cy="920.57" r="0.72" fill="#808080"/><circle cx="124.39" cy="923.27" r="0.82" fill="#808080"/><circle cx="121.95" cy="923.86" r="0.69" fill="#808080"/><circle cx="107.7" cy="918.87" r="0.68" fill="#808080"/><circle cx="137.45" cy="908.17" r="1.67" fill="#e8302a"/><circle cx="82.86" cy="898.66" r="0.75" fill="#808080"/><circle cx="74.87" cy="815.58" r="0.7" fill="#808080"/><circle cx="117.98" cy="929.86" r="0.74" fill="#808080"/><circle cx="117.85" cy="936.59" r="0.68" fill="#808080"/><circle cx="121.46" cy="932.66" r="0.88" fill="#808080"/><circle cx="121.28" cy="921.84" r="0.87" fill="#808080"/><circle cx="122.81" cy="922.23" r="0.79" fill="#808080"/><circle cx="124.87" cy="892.22" r="1" fill="#808080"/><circle cx="112.54" cy="866.96" r="0.86" fill="#808080"/><circle cx="123.33" cy="924.07" r="0.77" fill="#808080"/><circle cx="116.46" cy="929.96" r="0.65" fill="#808080"/><circle cx="116.51" cy="919.24" r="0.74" fill="#808080"/><circle cx="127.1" cy="930.47" r="0.63" fill="#808080"/><circle cx="116.99" cy="918.03" r="0.8" fill="#808080"/><circle cx="116.17" cy="937.1" r="0.59" fill="#808080"/><circle cx="146.75" cy="881.82" r="0.75" fill="#808080"/><circle cx="121.09" cy="934.14" r="0.82" fill="#808080"/><circle cx="135.59" cy="926.16" r="0.69" fill="#808080"/><circle cx="113.5" cy="941.05" r="0.87" fill="#808080"/><circle cx="117.18" cy="927.06" r="0.56" fill="#808080"/><circle cx="114.03" cy="899.89" r="1.41" fill="#3a5bb5"/><circle cx="111.65" cy="913.33" r="0.71" fill="#808080"/><circle cx="123.36" cy="937.61" r="0.78" fill="#808080"/><circle cx="114.98" cy="945.25" r="0.67" fill="#808080"/><circle cx="133.97" cy="885.96" r="1.29" fill="#e8302a"/><circle cx="112.17" cy="919.19" r="0.61" fill="#808080"/><circle cx="120.92" cy="924.14" r="0.69" fill="#808080"/><circle cx="116.37" cy="942.2" r="0.6" fill="#808080"/><circle cx="115.42" cy="937.61" r="0.75" fill="#808080"/><circle cx="119.38" cy="928.57" r="0.85" fill="#808080"/><circle cx="114.92" cy="877.97" r="1.18" fill="#3a5bb5"/><circle cx="116.2" cy="939.69" r="0.75" fill="#808080"/><circle cx="118.06" cy="949.06" r="0.74" fill="#808080"/><circle cx="115.3" cy="942.75" r="0.78" fill="#808080"/><circle cx="117.59" cy="945.85" r="0.65" fill="#808080"/><circle cx="117.61" cy="944.87" r="0.72" fill="#808080"/><circle cx="117.45" cy="940.61" r="0.71" fill="#808080"/><circle cx="106.2" cy="929.48" r="0.83" fill="#808080"/><circle cx="122.19" cy="928.75" r="0.62" fill="#808080"/><circle cx="117.03" cy="945.82" r="0.69" fill="#808080"/><circle cx="115.2" cy="937.66" r="0.83" fill="#808080"/><circle cx="122.76" cy="883.19" r="0.61" fill="#e8302a"/><circle cx="149.27" cy="878.06" r="1.16" fill="#e8302a"/><circle cx="142.1" cy="884.28" r="1.68" fill="#e8302a"/><circle cx="111.38" cy="916.12" r="0.88" fill="#808080"/><circle cx="116.25" cy="945.95" r="0.87" fill="#808080"/><circle cx="123.73" cy="924.55" r="0.63" fill="#808080"/><circle cx="135.33" cy="900" r="1.09" fill="#808080"/><circle cx="114.71" cy="932.22" r="0.73" fill="#808080"/><circle cx="126.18" cy="917.03" r="0.69" fill="#808080"/><circle cx="99.09" cy="864.94" r="1" fill="#808080"/><circle cx="126.34" cy="888.26" r="1.05" fill="#808080"/><circle cx="116.63" cy="948.81" r="0.81" fill="#808080"/><circle cx="122.37" cy="873.46" r="0.97" fill="#e8302a"/><circle cx="96.52" cy="890.57" r="1.08" fill="#808080"/><circle cx="111.56" cy="898.08" r="0.92" fill="#3a5bb5"/><circle cx="116.23" cy="887.99" r="0.99" fill="#808080"/><circle cx="82.75" cy="905.51" r="0.9" fill="#808080"/><circle cx="113.83" cy="879.32" r="0.73" fill="#808080"/><circle cx="120.09" cy="944.3" r="0.54" fill="#808080"/><circle cx="139.75" cy="891.23" r="1.54" fill="#e8302a"/><circle cx="114.2" cy="935.42" r="0.77" fill="#808080"/><circle cx="101.38" cy="910.08" r="0.74" fill="#808080"/><circle cx="125.99" cy="906.81" r="0.64" fill="#e8302a"/><circle cx="126.4" cy="915.56" r="0.53" fill="#808080"/><circle cx="121.25" cy="900.07" r="1.06" fill="#e8302a"/><circle cx="116.5" cy="944.75" r="0.62" fill="#808080"/><circle cx="110.53" cy="891.44" r="0.82" fill="#808080"/><circle cx="125.26" cy="882.15" r="1.26" fill="#e8302a"/><circle cx="112.87" cy="941.17" r="0.6" fill="#808080"/><circle cx="140.84" cy="875.7" r="1.25" fill="#e8302a"/><circle cx="124.18" cy="878.34" r="0.8" fill="#808080"/><circle cx="129.76" cy="910.85" r="0.86" fill="#808080"/><circle cx="124.38" cy="900.12" r="0.7" fill="#808080"/><circle cx="123.71" cy="861.41" r="0.71" fill="#808080"/><circle cx="114.44" cy="936.31" r="0.8" fill="#808080"/><circle cx="106.68" cy="923.91" r="0.73" fill="#808080"/><circle cx="118.86" cy="930.38" r="0.59" fill="#808080"/><circle cx="105.02" cy="904.73" r="0.92" fill="#3a5bb5"/><circle cx="134.72" cy="896.88" r="0.99" fill="#e8302a"/><circle cx="120.24" cy="931.1" r="0.73" fill="#808080"/><circle cx="93.77" cy="911.71" r="1.07" fill="#3a5bb5"/><circle cx="96.26" cy="885.73" r="0.86" fill="#808080"/><circle cx="112.12" cy="939.94" r="0.69" fill="#808080"/><circle cx="112.18" cy="917.52" r="0.64" fill="#808080"/><circle cx="102.83" cy="900.68" r="0.76" fill="#3a5bb5"/><circle cx="107.46" cy="897.1" r="0.8" fill="#808080"/><circle cx="107.09" cy="885.16" r="0.71" fill="#808080"/><circle cx="117.62" cy="928.33" r="0.68" fill="#808080"/><circle cx="113.36" cy="920.92" r="0.83" fill="#808080"/><circle cx="116.86" cy="943.85" r="0.77" fill="#808080"/><circle cx="120.16" cy="938.12" r="0.88" fill="#808080"/><circle cx="115.02" cy="876.2" r="0.78" fill="#3a5bb5"/><circle cx="115.37" cy="940.16" r="0.89" fill="#808080"/><circle cx="111.97" cy="937.13" r="0.81" fill="#808080"/><circle cx="116.22" cy="947.32" r="0.65" fill="#808080"/><circle cx="116.17" cy="944.31" r="0.55" fill="#808080"/><circle cx="116.22" cy="880.49" r="0.83" fill="#808080"/><circle cx="121.32" cy="851.62" r="1.09" fill="#e8302a"/><circle cx="125.33" cy="849.07" r="1.68" fill="#e8302a"/><circle cx="138.47" cy="869.82" r="0.86" fill="#808080"/><circle cx="120.32" cy="943.34" r="0.74" fill="#808080"/><circle cx="117.56" cy="933.5" r="0.8" fill="#808080"/><circle cx="117.47" cy="945.69" r="0.61" fill="#808080"/><circle cx="117.82" cy="930.33" r="0.7" fill="#808080"/><circle cx="119.28" cy="936.73" r="0.83" fill="#808080"/><circle cx="140.99" cy="907.68" r="0.8" fill="#e8302a"/><circle cx="117.51" cy="937.89" r="0.57" fill="#808080"/><circle cx="115.25" cy="940.94" r="0.83" fill="#808080"/><circle cx="115.25" cy="933.79" r="0.89" fill="#808080"/><circle cx="112.83" cy="939.83" r="0.61" fill="#808080"/><circle cx="120.49" cy="935.91" r="0.57" fill="#808080"/><circle cx="114.1" cy="904.76" r="0.72" fill="#808080"/><circle cx="114.9" cy="915.44" r="0.8" fill="#808080"/><circle cx="101.64" cy="898.22" r="0.94" fill="#808080"/><circle cx="125.62" cy="921.16" r="0.72" fill="#808080"/><circle cx="109.72" cy="943.52" r="0.77" fill="#808080"/><circle cx="81.2" cy="886.04" r="0.6" fill="#808080"/><circle cx="117.05" cy="943.38" r="0.87" fill="#808080"/><circle cx="108.33" cy="868.17" r="1.06" fill="#3a5bb5"/><circle cx="127.91" cy="810.12" r="1.8" fill="#e8302a"/><circle cx="117.51" cy="934.07" r="0.77" fill="#808080"/><circle cx="115.02" cy="935.6" r="0.69" fill="#808080"/><circle cx="120" cy="937.66" r="0.8" fill="#808080"/><circle cx="92.44" cy="907.11" r="0.86" fill="#808080"/><circle cx="114.08" cy="944.54" r="0.69" fill="#808080"/><circle cx="95.79" cy="901.61" r="1.04" fill="#808080"/><circle cx="117.54" cy="947.57" r="0.74" fill="#808080"/><circle cx="111.38" cy="932.83" r="0.8" fill="#808080"/><circle cx="123.81" cy="857.17" r="0.93" fill="#808080"/><circle cx="118.09" cy="937.45" r="0.83" fill="#808080"/><circle cx="99.33" cy="888.41" r="0.81" fill="#808080"/><circle cx="117.3" cy="940.34" r="0.8" fill="#808080"/><circle cx="164" cy="869.22" r="0.6" fill="#808080"/><circle cx="137.75" cy="931.89" r="0.6" fill="#808080"/><circle cx="119.5" cy="945.84" r="0.66" fill="#808080"/><circle cx="124.77" cy="889.22" r="1.09" fill="#808080"/><circle cx="135.86" cy="834.7" r="1.8" fill="#e8302a"/><circle cx="138.25" cy="906.96" r="1.12" fill="#e8302a"/><circle cx="105.53" cy="914.44" r="0.77" fill="#808080"/><circle cx="128.35" cy="881.71" r="0.83" fill="#808080"/><circle cx="116.45" cy="925.61" r="0.79" fill="#808080"/><circle cx="115.68" cy="936.63" r="0.65" fill="#808080"/><circle cx="130.83" cy="906.61" r="0.7" fill="#808080"/><circle cx="113.31" cy="946.02" r="0.56" fill="#808080"/><circle cx="108.23" cy="875.88" r="1.66" fill="#3a5bb5"/><circle cx="123.71" cy="930.84" r="0.84" fill="#808080"/><circle cx="118.09" cy="946.47" r="0.87" fill="#808080"/><circle cx="113.61" cy="888.89" r="0.85" fill="#808080"/><circle cx="118.19" cy="941.28" r="0.63" fill="#808080"/><circle cx="132.45" cy="885.8" r="0.78" fill="#e8302a"/><circle cx="127.3" cy="860.71" r="0.72" fill="#808080"/><circle cx="135.37" cy="871.55" r="1.08" fill="#e8302a"/><circle cx="137.84" cy="911.95" r="1.07" fill="#e8302a"/><circle cx="109.09" cy="921.86" r="0.6" fill="#808080"/><circle cx="114.68" cy="932.46" r="0.67" fill="#808080"/><circle cx="114.72" cy="918.73" r="0.66" fill="#808080"/><circle cx="113.76" cy="929.8" r="0.77" fill="#808080"/><circle cx="118.62" cy="907.16" r="0.67" fill="#808080"/><circle cx="116.99" cy="932.08" r="0.89" fill="#808080"/><circle cx="131.18" cy="919.53" r="0.8" fill="#808080"/><circle cx="109.89" cy="910.31" r="0.78" fill="#3a5bb5"/><circle cx="118.62" cy="945.72" r="0.81" fill="#808080"/><circle cx="115.94" cy="940.47" r="0.79" fill="#808080"/><circle cx="120.02" cy="931.96" r="0.79" fill="#808080"/><circle cx="116.66" cy="911.87" r="1.03" fill="#808080"/><circle cx="116.58" cy="917.77" r="0.75" fill="#808080"/><circle cx="114.56" cy="909.39" r="0.91" fill="#3a5bb5"/><circle cx="119.68" cy="926.62" r="0.71" fill="#808080"/><circle cx="122.35" cy="881.38" r="0.82" fill="#808080"/><circle cx="121.51" cy="928.68" r="0.66" fill="#808080"/><circle cx="115.37" cy="929.9" r="0.64" fill="#808080"/><circle cx="130.14" cy="933.75" r="0.65" fill="#808080"/><circle cx="121.14" cy="943.75" r="0.79" fill="#808080"/><circle cx="105.87" cy="905.42" r="0.93" fill="#3a5bb5"/><circle cx="107.92" cy="922.35" r="0.77" fill="#808080"/><circle cx="125.05" cy="903.92" r="0.84" fill="#808080"/><circle cx="117.3" cy="942.92" r="0.74" fill="#808080"/><circle cx="119.72" cy="947.44" r="0.73" fill="#808080"/><circle cx="113.94" cy="932.7" r="0.85" fill="#808080"/><circle cx="116.37" cy="930.02" r="0.69" fill="#808080"/><circle cx="116.62" cy="942.72" r="0.63" fill="#808080"/><circle cx="120.6" cy="880.86" r="0.74" fill="#e8302a"/><circle cx="79.19" cy="939.43" r="0.6" fill="#808080"/><circle cx="127.63" cy="890.03" r="1.65" fill="#e8302a"/><circle cx="115.9" cy="937.52" r="0.57" fill="#808080"/><circle cx="99.62" cy="745.94" r="1.2" fill="#3a5bb5"/><circle cx="148.62" cy="865.74" r="0.6" fill="#808080"/><circle cx="116.73" cy="934.92" r="0.67" fill="#808080"/><circle cx="163.38" cy="885.94" r="0.6" fill="#808080"/><circle cx="122.91" cy="936.24" r="0.58" fill="#808080"/><circle cx="118.44" cy="948.92" r="0.83" fill="#808080"/><circle cx="118.01" cy="936.88" r="0.62" fill="#808080"/><circle cx="120.23" cy="942.13" r="0.87" fill="#808080"/><circle cx="121.58" cy="940.44" r="0.9" fill="#808080"/><circle cx="138.83" cy="878.46" r="0.68" fill="#808080"/><circle cx="118.6" cy="943.66" r="0.79" fill="#808080"/><circle cx="120.7" cy="867.88" r="0.73" fill="#808080"/><circle cx="119.65" cy="944.08" r="0.86" fill="#808080"/><circle cx="121.91" cy="905.1" r="1.01" fill="#808080"/><circle cx="113.18" cy="912.92" r="0.94" fill="#808080"/><circle cx="111.24" cy="932.45" r="0.69" fill="#808080"/><circle cx="108.4" cy="884.76" r="1.5" fill="#3a5bb5"/><circle cx="112.46" cy="912.06" r="1.24" fill="#3a5bb5"/><circle cx="113.49" cy="876.9" r="0.88" fill="#808080"/><circle cx="43.04" cy="871.57" r="1.4" fill="#3a5bb5"/><circle cx="111.4" cy="912.66" r="1.07" fill="#808080"/><circle cx="115.76" cy="946.26" r="0.89" fill="#808080"/><circle cx="121.27" cy="921.65" r="0.54" fill="#808080"/><circle cx="115.69" cy="922.48" r="0.52" fill="#808080"/><circle cx="114.39" cy="938.51" r="0.61" fill="#808080"/><circle cx="115.71" cy="934.76" r="0.75" fill="#808080"/><circle cx="109.13" cy="912.47" r="1.09" fill="#808080"/><circle cx="107.48" cy="887.48" r="1.36" fill="#3a5bb5"/><circle cx="137.38" cy="907.21" r="0.87" fill="#808080"/><circle cx="108.55" cy="875.87" r="1.32" fill="#3a5bb5"/><circle cx="115.87" cy="945.42" r="0.78" fill="#808080"/><circle cx="116.22" cy="945.97" r="0.8" fill="#808080"/><circle cx="120.71" cy="941.75" r="0.83" fill="#808080"/><circle cx="122.16" cy="924.27" r="0.79" fill="#808080"/><circle cx="141.46" cy="889.59" r="0.99" fill="#808080"/><circle cx="123.69" cy="935.66" r="0.56" fill="#808080"/><circle cx="113.85" cy="933.5" r="0.69" fill="#808080"/><circle cx="136.5" cy="907.27" r="1.55" fill="#e8302a"/><circle cx="105.63" cy="907.41" r="0.96" fill="#808080"/><circle cx="93.3" cy="900.03" r="1.03" fill="#808080"/><circle cx="116.77" cy="948.4" r="0.73" fill="#808080"/><circle cx="118.86" cy="940.82" r="0.56" fill="#808080"/><circle cx="115.31" cy="938.23" r="0.88" fill="#808080"/><circle cx="131.16" cy="918.17" r="0.5" fill="#808080"/><circle cx="147.85" cy="909.87" r="1.06" fill="#808080"/><circle cx="110.56" cy="941.45" r="0.7" fill="#808080"/><circle cx="126.56" cy="896.76" r="0.67" fill="#808080"/><circle cx="124.55" cy="891.57" r="1.28" fill="#e8302a"/><circle cx="89.87" cy="882.26" r="1.02" fill="#808080"/><circle cx="124.7" cy="871.08" r="0.6" fill="#808080"/><circle cx="105.36" cy="909.27" r="0.87" fill="#808080"/><circle cx="118.5" cy="940.31" r="0.59" fill="#808080"/><circle cx="100.87" cy="858.04" r="1.1" fill="#808080"/><circle cx="149.49" cy="877.77" r="1.26" fill="#e8302a"/><circle cx="113.69" cy="942.08" r="0.7" fill="#808080"/><circle cx="132.01" cy="902.17" r="0.79" fill="#808080"/><circle cx="124.79" cy="901.71" r="0.84" fill="#e8302a"/><circle cx="119.35" cy="927.59" r="0.78" fill="#808080"/><circle cx="124.97" cy="901.19" r="1.09" fill="#808080"/><circle cx="114.95" cy="894.1" r="0.72" fill="#808080"/><circle cx="112.76" cy="936.27" r="0.9" fill="#808080"/><circle cx="116.78" cy="945.79" r="0.81" fill="#808080"/><circle cx="109.89" cy="940.81" r="0.53" fill="#808080"/><circle cx="112.39" cy="908.08" r="1.41" fill="#3a5bb5"/><circle cx="122.75" cy="859.23" r="1.04" fill="#808080"/><circle cx="103.69" cy="828.71" r="0.71" fill="#808080"/><circle cx="125.74" cy="888.37" r="1.02" fill="#e8302a"/><circle cx="113.96" cy="945.28" r="0.52" fill="#808080"/><circle cx="117.6" cy="930.91" r="0.68" fill="#808080"/><circle cx="122.72" cy="934.34" r="0.58" fill="#808080"/><circle cx="141.6" cy="920.36" r="0.64" fill="#808080"/><circle cx="119.25" cy="930.43" r="0.83" fill="#808080"/><circle cx="127.91" cy="823.77" r="1.2" fill="#e8302a"/><circle cx="109.57" cy="928.78" r="0.62" fill="#808080"/><circle cx="111.78" cy="908.83" r="0.73" fill="#808080"/><circle cx="130.73" cy="877.71" r="0.82" fill="#808080"/><circle cx="115.41" cy="940.54" r="0.82" fill="#808080"/><circle cx="130.95" cy="908.52" r="0.99" fill="#808080"/><circle cx="110.6" cy="927.32" r="0.57" fill="#808080"/><circle cx="119.79" cy="924.38" r="0.69" fill="#808080"/><circle cx="124.35" cy="905.39" r="0.95" fill="#808080"/><circle cx="112.29" cy="832.88" r="0.75" fill="#3a5bb5"/><circle cx="129.86" cy="868.23" r="0.8" fill="#808080"/><circle cx="114.69" cy="937.13" r="0.78" fill="#808080"/><circle cx="112.29" cy="924.03" r="0.64" fill="#808080"/><circle cx="123.22" cy="903.68" r="0.94" fill="#808080"/><circle cx="120.8" cy="935.17" r="0.65" fill="#808080"/><circle cx="116.39" cy="947.54" r="0.58" fill="#808080"/><circle cx="132.79" cy="926.67" r="0.84" fill="#808080"/><circle cx="118.47" cy="937.94" r="0.81" fill="#808080"/><circle cx="112.46" cy="944.87" r="0.67" fill="#808080"/><circle cx="136.69" cy="910.75" r="0.96" fill="#808080"/><circle cx="122.76" cy="929.92" r="0.67" fill="#808080"/><circle cx="120.07" cy="898.99" r="1.54" fill="#e8302a"/><circle cx="117.93" cy="936.64" r="0.9" fill="#808080"/><circle cx="135.31" cy="837.78" r="1.13" fill="#e8302a"/><circle cx="99.08" cy="873.31" r="1.62" fill="#3a5bb5"/><circle cx="112.89" cy="904.1" r="0.76" fill="#808080"/><circle cx="124.28" cy="839.28" r="0.79" fill="#808080"/><circle cx="110.68" cy="874.54" r="1.18" fill="#3a5bb5"/><circle cx="155.09" cy="922.18" r="0.63" fill="#808080"/><circle cx="114.67" cy="943.46" r="0.76" fill="#808080"/><circle cx="104.51" cy="866.21" r="1.32" fill="#3a5bb5"/><circle cx="116.72" cy="940.64" r="0.72" fill="#808080"/><circle cx="81.94" cy="896.29" r="0.67" fill="#808080"/><circle cx="110.96" cy="906.5" r="0.89" fill="#808080"/><circle cx="124.88" cy="911.31" r="0.86" fill="#e8302a"/><circle cx="121.19" cy="856.23" r="1.26" fill="#e8302a"/><circle cx="134.87" cy="885.57" r="0.65" fill="#e8302a"/><circle cx="116.17" cy="928.62" r="0.9" fill="#808080"/><circle cx="119.3" cy="885.88" r="0.67" fill="#808080"/><circle cx="111.38" cy="943.27" r="0.59" fill="#808080"/><circle cx="138.76" cy="854.09" r="1.28" fill="#e8302a"/><circle cx="115.03" cy="947.57" r="0.84" fill="#808080"/><circle cx="132.2" cy="855.19" r="0.98" fill="#808080"/><circle cx="116.39" cy="948.33" r="0.81" fill="#808080"/><circle cx="111.84" cy="900.05" r="1.33" fill="#3a5bb5"/><circle cx="103.18" cy="905.24" r="0.74" fill="#808080"/><circle cx="130.85" cy="887.58" r="0.72" fill="#e8302a"/><circle cx="122.6" cy="901.66" r="0.92" fill="#808080"/><circle cx="134.98" cy="766.42" r="0.7" fill="#808080"/><circle cx="110.88" cy="933.82" r="0.61" fill="#808080"/><circle cx="125.38" cy="909.3" r="0.85" fill="#e8302a"/><circle cx="114.79" cy="944.41" r="0.54" fill="#808080"/><circle cx="116.8" cy="947.85" r="0.72" fill="#808080"/><circle cx="113.85" cy="899.72" r="0.85" fill="#808080"/><circle cx="121.31" cy="934.53" r="0.87" fill="#808080"/><circle cx="173.48" cy="875.72" r="0.6" fill="#808080"/><circle cx="117.65" cy="933.65" r="0.66" fill="#808080"/><circle cx="121.26" cy="935.92" r="0.84" fill="#808080"/><circle cx="55.42" cy="807.39" r="0.7" fill="#808080"/><circle cx="116.79" cy="947.46" r="0.66" fill="#808080"/><circle cx="117.5" cy="949.32" r="0.67" fill="#808080"/><circle cx="117.68" cy="836.62" r="1.09" fill="#808080"/><circle cx="129.66" cy="873.59" r="0.71" fill="#e8302a"/><circle cx="134.36" cy="870.59" r="0.61" fill="#e8302a"/><circle cx="109.71" cy="886.78" r="1.32" fill="#3a5bb5"/><circle cx="115.69" cy="943.59" r="0.77" fill="#808080"/><circle cx="146.78" cy="911.37" r="1.05" fill="#808080"/><circle cx="119.44" cy="945.47" r="0.58" fill="#808080"/><circle cx="115.13" cy="889.49" r="0.93" fill="#808080"/><circle cx="115.25" cy="932.52" r="0.56" fill="#808080"/><circle cx="100.92" cy="884.35" r="1.52" fill="#3a5bb5"/><circle cx="118.18" cy="931.57" r="0.81" fill="#808080"/><circle cx="105.42" cy="893.4" r="0.97" fill="#808080"/><circle cx="105.47" cy="909.49" r="0.91" fill="#3a5bb5"/><circle cx="124.17" cy="899.44" r="1.16" fill="#e8302a"/><circle cx="122.41" cy="886.72" r="0.85" fill="#808080"/><circle cx="110.14" cy="914.65" r="0.82" fill="#808080"/><circle cx="131.15" cy="900.56" r="0.97" fill="#808080"/><circle cx="104.36" cy="906.91" r="1.41" fill="#3a5bb5"/><circle cx="115.54" cy="945.88" r="0.9" fill="#808080"/><circle cx="116.57" cy="936.85" r="0.61" fill="#808080"/><circle cx="94.87" cy="882.16" r="0.98" fill="#3a5bb5"/><circle cx="111.2" cy="943.21" r="0.66" fill="#808080"/><circle cx="122.99" cy="900.8" r="0.87" fill="#e8302a"/><circle cx="112.7" cy="942.23" r="0.77" fill="#808080"/><circle cx="117.67" cy="944.09" r="0.87" fill="#808080"/><circle cx="111.67" cy="876.81" r="0.7" fill="#808080"/><circle cx="158.86" cy="938.86" r="0.6" fill="#808080"/><circle cx="133.76" cy="885.57" r="1.02" fill="#808080"/><circle cx="138.52" cy="777.35" r="1.1" fill="#e8302a"/><circle cx="119.83" cy="920.31" r="0.77" fill="#808080"/><circle cx="115.74" cy="937.39" r="0.65" fill="#808080"/><circle cx="132.83" cy="943.61" r="0.6" fill="#808080"/><circle cx="122.34" cy="879.48" r="0.71" fill="#808080"/><circle cx="119.9" cy="944.12" r="0.78" fill="#808080"/><circle cx="99.08" cy="900.52" r="0.6" fill="#808080"/><circle cx="112.7" cy="875.25" r="0.89" fill="#808080"/><circle cx="113.37" cy="899.98" r="1.01" fill="#808080"/><circle cx="122.95" cy="908.54" r="0.67" fill="#808080"/><circle cx="118.78" cy="947.74" r="0.71" fill="#808080"/><circle cx="101.04" cy="922.16" r="0.65" fill="#808080"/><circle cx="116.07" cy="948.41" r="0.79" fill="#808080"/><circle cx="145.08" cy="874.01" r="1.36" fill="#e8302a"/><circle cx="102.47" cy="909.06" r="1.03" fill="#808080"/><circle cx="121.05" cy="941.83" r="0.64" fill="#808080"/><circle cx="119.28" cy="931.81" r="0.78" fill="#808080"/><circle cx="111.89" cy="897.61" r="0.88" fill="#808080"/><circle cx="95.18" cy="919.72" r="0.61" fill="#808080"/><circle cx="118.45" cy="948.45" r="0.88" fill="#808080"/><circle cx="148.86" cy="892.06" r="1.03" fill="#808080"/><circle cx="110.47" cy="904.14" r="1.4" fill="#3a5bb5"/><circle cx="85.31" cy="855.22" r="0.6" fill="#808080"/><circle cx="125.81" cy="914.2" r="0.87" fill="#808080"/><circle cx="117.72" cy="944.83" r="0.7" fill="#808080"/><circle cx="103.34" cy="908.29" r="1.05" fill="#3a5bb5"/><circle cx="141.79" cy="899.54" r="0.96" fill="#808080"/><circle cx="111.73" cy="930.09" r="0.58" fill="#808080"/><circle cx="112.8" cy="940.26" r="0.77" fill="#808080"/><circle cx="121.45" cy="881.42" r="1.02" fill="#808080"/><circle cx="172.99" cy="793.73" r="0.7" fill="#808080"/><circle cx="119.36" cy="936.66" r="0.62" fill="#808080"/><circle cx="120.71" cy="938.66" r="0.51" fill="#808080"/><circle cx="129.95" cy="888.41" r="1.58" fill="#e8302a"/><circle cx="99.77" cy="886.93" r="0.81" fill="#808080"/><circle cx="120.71" cy="941.18" r="0.67" fill="#808080"/><circle cx="120.24" cy="918.01" r="0.51" fill="#808080"/><circle cx="116.52" cy="942.04" r="0.82" fill="#808080"/><circle cx="103.94" cy="894.03" r="0.83" fill="#808080"/><circle cx="118.77" cy="936.9" r="0.7" fill="#808080"/><circle cx="88.89" cy="923.79" r="0.6" fill="#808080"/><circle cx="113.42" cy="889.7" r="0.75" fill="#808080"/><circle cx="167.59" cy="861.73" r="0.6" fill="#808080"/><circle cx="121.37" cy="932.72" r="0.7" fill="#808080"/><circle cx="114.42" cy="932.94" r="0.64" fill="#808080"/><circle cx="92.09" cy="869.07" r="0.95" fill="#808080"/><circle cx="78.66" cy="858.74" r="0.77" fill="#808080"/><circle cx="117.11" cy="934.89" r="0.74" fill="#808080"/><circle cx="116.91" cy="942.83" r="0.57" fill="#808080"/><circle cx="117.89" cy="941.31" r="0.81" fill="#808080"/><circle cx="127.45" cy="926.84" r="0.79" fill="#808080"/><circle cx="129.71" cy="890.84" r="0.96" fill="#808080"/><circle cx="106.58" cy="914.7" r="0.74" fill="#808080"/><circle cx="113.07" cy="908.17" r="1.64" fill="#3a5bb5"/><circle cx="126.94" cy="880.48" r="0.82" fill="#e8302a"/><circle cx="109.53" cy="930.7" r="0.61" fill="#808080"/><circle cx="136.26" cy="910.77" r="1.08" fill="#808080"/><circle cx="112.18" cy="912.07" r="0.96" fill="#808080"/><circle cx="117.52" cy="944.58" r="0.56" fill="#808080"/><circle cx="117.3" cy="925.9" r="0.8" fill="#808080"/><circle cx="75.35" cy="894.08" r="0.6" fill="#808080"/><circle cx="114.17" cy="937.99" r="0.58" fill="#808080"/><circle cx="186.34" cy="901.27" r="0.6" fill="#808080"/><circle cx="117.45" cy="914.7" r="0.72" fill="#808080"/><circle cx="113.35" cy="878.7" r="0.77" fill="#808080"/><circle cx="142.81" cy="894.91" r="0.86" fill="#808080"/><circle cx="110.98" cy="875.36" r="0.77" fill="#3a5bb5"/><circle cx="119.3" cy="940.37" r="0.72" fill="#808080"/><circle cx="116.06" cy="931.99" r="0.82" fill="#808080"/><circle cx="108.74" cy="892.45" r="0.67" fill="#808080"/><circle cx="117.72" cy="946.88" r="0.71" fill="#808080"/><circle cx="113.54" cy="938.73" r="0.63" fill="#808080"/><circle cx="119.07" cy="932.53" r="0.89" fill="#808080"/><circle cx="111.52" cy="935.83" r="0.74" fill="#808080"/><circle cx="134.18" cy="905.65" r="1.07" fill="#808080"/><circle cx="108.78" cy="900.22" r="0.8" fill="#3a5bb5"/><circle cx="111.97" cy="925.58" r="0.69" fill="#808080"/><circle cx="129.62" cy="887.92" r="0.67" fill="#808080"/><circle cx="119.75" cy="940.07" r="0.76" fill="#808080"/><circle cx="113.23" cy="931.01" r="0.82" fill="#808080"/><circle cx="105.34" cy="906.07" r="1.36" fill="#3a5bb5"/><circle cx="116.14" cy="947.8" r="0.8" fill="#808080"/><circle cx="105.57" cy="911.25" r="1.11" fill="#3a5bb5"/><circle cx="133.6" cy="887.71" r="0.67" fill="#e8302a"/><circle cx="114.91" cy="923.89" r="0.63" fill="#808080"/><circle cx="121.43" cy="943.6" r="0.78" fill="#808080"/><circle cx="118.94" cy="913.65" r="0.8" fill="#808080"/><circle cx="105.06" cy="932.38" r="0.55" fill="#808080"/><circle cx="95.81" cy="878.27" r="0.8" fill="#3a5bb5"/><circle cx="114.91" cy="942.75" r="0.72" fill="#808080"/><circle cx="110.49" cy="898.56" r="0.85" fill="#808080"/><circle cx="124.48" cy="881.05" r="1.3" fill="#e8302a"/><circle cx="116.15" cy="940.93" r="0.88" fill="#808080"/><circle cx="123.16" cy="876.68" r="0.82" fill="#808080"/><circle cx="113.42" cy="922.12" r="0.89" fill="#808080"/><circle cx="118.02" cy="908.91" r="0.94" fill="#808080"/><circle cx="108.31" cy="936.85" r="0.66" fill="#808080"/><circle cx="111.35" cy="943.36" r="0.64" fill="#808080"/><circle cx="151.29" cy="900.74" r="1.04" fill="#808080"/><circle cx="117.27" cy="949.09" r="0.62" fill="#808080"/><circle cx="112.9" cy="889.05" r="1.02" fill="#808080"/><circle cx="109.32" cy="938.47" r="0.66" fill="#808080"/><circle cx="112.43" cy="942" r="0.76" fill="#808080"/><circle cx="114.05" cy="942.48" r="0.67" fill="#808080"/><circle cx="113.64" cy="922.45" r="0.74" fill="#808080"/><circle cx="118.35" cy="949.24" r="0.59" fill="#808080"/><circle cx="113.35" cy="935.98" r="0.88" fill="#808080"/><circle cx="110.4" cy="938.67" r="0.79" fill="#808080"/><circle cx="111.46" cy="930.45" r="0.62" fill="#808080"/><circle cx="115.58" cy="924.66" r="0.53" fill="#808080"/><circle cx="123.7" cy="874.68" r="0.86" fill="#808080"/><circle cx="144.52" cy="912.52" r="0.8" fill="#808080"/><circle cx="99.81" cy="867.93" r="0.68" fill="#808080"/><circle cx="116.47" cy="934.53" r="0.78" fill="#808080"/><circle cx="103.56" cy="911.96" r="0.73" fill="#3a5bb5"/><circle cx="81.94" cy="818.31" r="1.1" fill="#3a5bb5"/><circle cx="118.82" cy="947.75" r="0.7" fill="#808080"/></g>
<path d="M24.6 913.9H249M117.3 730.8V949.4" stroke="#333" stroke-width="0.8" stroke-dasharray="3.2 2.2" fill="none"/>
<rect x="24.6" y="730.8" width="229.6" height="218.6" fill="none" stroke="#333" stroke-width="0.9"/>
<text x="20.2" y="951.8" class="vtk">0</text>
<text x="20.2" y="924.49" class="vtk">1</text>
<text x="20.2" y="897.18" class="vtk">2</text>
<text x="20.2" y="869.87" class="vtk">3</text>
<text x="20.2" y="842.56" class="vtk">4</text>
<text x="20.2" y="815.25" class="vtk">5</text>
<text x="20.2" y="787.94" class="vtk">6</text>
<text x="20.2" y="760.63" class="vtk">7</text>
<text x="20.2" y="733.32" class="vtk">8</text>
<text x="28.9" y="957.6" class="vtkx">-10</text>
<text x="73.1" y="957.6" class="vtkx">-5</text>
<text x="117.3" y="957.6" class="vtkx">0</text>
<text x="161.5" y="957.6" class="vtkx">5</text>
<text x="205.7" y="957.6" class="vtkx">10</text>
<text x="249.9" y="957.6" class="vtkx">15</text>
<path d="M21.3 949.4H24.6M21.3 922.09H24.6M21.3 894.78H24.6M21.3 867.47H24.6M21.3 840.16H24.6M21.3 812.85H24.6M21.3 785.54H24.6M21.3 758.23H24.6M21.3 730.92H24.6M28.9 949.4v2.2M73.1 949.4v2.2M117.3 949.4v2.2M161.5 949.4v2.2M205.7 949.4v2.2M249.9 949.4v2.2" stroke="#333" stroke-width="0.8" fill="none"/>
<text x="139.2" y="966.6" class="vax">Log2FC</text>
<text transform="translate(11.5 838.2) rotate(-90)" class="vax">-Log10 (p value)</text>
<text x="263" y="808.6" class="vlb">Significant</text>
<circle cx="265.3" cy="815.6" r="3.1" fill="#e8302a"/>
<text x="270" y="817.6" class="vlt">up(155)</text>
<circle cx="265.3" cy="825.2" r="3.1" fill="#8a8a8a"/>
<text x="270" y="827.2" class="vlt">nosig(1187)</text>
<circle cx="265.3" cy="834.7" r="3.1" fill="#3a5bb5"/>
<text x="270" y="836.7" class="vlt">down(139)</text>
<text x="263" y="852.3" class="vlb">VIP</text>
<circle cx="265.3" cy="859.1" r="0.6" fill="#222"/>
<text x="272" y="861.1" class="vlt">0.0</text>
<circle cx="265.3" cy="868.2" r="1.6" fill="#222"/>
<text x="272" y="870.2" class="vlt">7.1</text>
<circle cx="265.3" cy="877" r="2.3" fill="#222"/>
<text x="272" y="879" class="vlt">14.1</text>
<circle cx="265.3" cy="885.9" r="2.8" fill="#222"/>
<text x="272" y="887.9" class="vlt">21.2</text>
<text x="302.4" y="518" class="plo">o</text>
<text x="535.5" y="547.9" class="dt" textLength="220.6" lengthAdjust="spacingAndGlyphs">Differential Abundance Score</text>
<text x="533" y="564.1" class="dt2"><tspan fill="#e8262b" font-style="italic">ace2-/-</tspan> vs <tspan font-style="italic">ace2+/-</tspan></text>
<text x="353.5" y="573.3" class="sc">Second Category</text>
<path d="M352.7 582.1H361.1" stroke="#d9503f" stroke-width="0.9"/><circle cx="356.9" cy="582.1" r="2.9" fill="#d9503f"/>
<text x="362.5" y="584.4" class="lgt">Lipid metabolism</text>
<path d="M352.7 593.8H361.1" stroke="#5dbccd" stroke-width="0.9"/><circle cx="356.9" cy="593.8" r="2.9" fill="#5dbccd"/>
<text x="362.5" y="596.1" class="lgt">Membrane transport</text>
<path d="M352.7 605.4H361.1" stroke="#3b9a78" stroke-width="0.9"/><circle cx="356.9" cy="605.4" r="2.9" fill="#3b9a78"/>
<text x="362.5" y="607.7" class="lgt">Translation</text>
<path d="M352.7 617.3H361.1" stroke="#3c4b8a" stroke-width="0.9"/><circle cx="356.9" cy="617.3" r="2.9" fill="#3c4b8a"/>
<text x="362.5" y="619.6" class="lgt">Signaling molecules and interaction</text>
<path d="M441.4 582.1H449.8" stroke="#e0937e" stroke-width="0.9"/><circle cx="445.6" cy="582.1" r="2.9" fill="#e0937e"/>
<text x="451.2" y="584.4" class="lgt">Global and overview maps</text>
<path d="M441.4 593.8H449.8" stroke="#7c87ba" stroke-width="0.9"/><circle cx="445.6" cy="593.8" r="2.9" fill="#7c87ba"/>
<text x="451.2" y="596.1" class="lgt">Amino acid metabolism</text>
<path d="M441.4 605.4H449.8" stroke="#8ed3b9" stroke-width="0.9"/><circle cx="445.6" cy="605.4" r="2.9" fill="#8ed3b9"/>
<text x="451.2" y="607.7" class="lgt">Metabolism of other amino acids</text>
<path d="M480.3 617.3H488.7" stroke="#cc2a2a" stroke-width="0.9"/><circle cx="484.5" cy="617.3" r="2.9" fill="#cc2a2a"/>
<text x="490.1" y="619.6" class="lgt">Nucleotide metabolism</text>
<path d="M561 581.3H569.4" stroke="#7b5a44" stroke-width="0.9"/><circle cx="565.2" cy="581.3" r="2.9" fill="#7b5a44"/>
<text x="570.8" y="583.6" class="lgt">Carbohydrate metabolism</text>
<path d="M561 593.3H569.4" stroke="#cfcfcf" stroke-width="0.9"/><circle cx="565.2" cy="593.3" r="2.9" fill="#cfcfcf"/>
<text x="570.8" y="595.6" class="lgt">Cell growth and death</text>
<path d="M561 604.7H569.4" stroke="#b5827c" stroke-width="0.9"/><circle cx="565.2" cy="604.7" r="2.9" fill="#b5827c"/>
<text x="570.8" y="607" class="lgt">Circulatory system</text>
<path d="M454.5 626.1V946.4M494.7 626.1V946.4M575.1 626.1V946.4M615.3 626.1V946.4" stroke="#e3e3e3" stroke-width="0.8" fill="none"/>
<path d="M534.9 626.1V946.4" stroke="#8a8a8a" stroke-width="0.9" stroke-dasharray="3.2 1.6" fill="none"/>
<circle cx="534.9" cy="633.8" r="2.4" fill="#b5827c"/>
<text x="540.9" y="637.2" class="st">*</text>
<text x="410.8" y="635.7" class="rl" fill="#9f726d" stroke="#9f726d">Vascular smooth muscle contraction</text>
<path d="M534.9 649.84H498.72" stroke="#8ed3b9" stroke-opacity="0.75" stroke-width="1"/>
<circle cx="498.72" cy="649.84" r="3.2" fill="#8ed3b9"/>
<text x="490.17" y="653.24" class="st">*</text>
<text x="410.8" y="651.74" class="rl" fill="#7cb9a2" stroke="#7cb9a2">Glutathione metabolism</text>
<path d="M534.9 665.88H527.66" stroke="#7b5a44" stroke-opacity="0.75" stroke-width="1"/>
<circle cx="527.66" cy="665.88" r="3.2" fill="#7b5a44"/>
<text x="519.11" y="669.28" class="st">*</text>
<text x="410.8" y="667.78" class="rl" fill="#6c4f3b" stroke="#6c4f3b">Glyoxylate and dicarboxylate metabolism</text>
<path d="M534.9 681.92H521.23" stroke="#7c87ba" stroke-opacity="0.75" stroke-width="1"/>
<circle cx="521.23" cy="681.92" r="3.0" fill="#7c87ba"/>
<text x="512.88" y="685.32" class="st">*</text>
<text x="410.8" y="683.82" class="rl" fill="#6d76a3" stroke="#6d76a3">Lysine degradation</text>
<path d="M534.9 697.96H454.5" stroke="#cfcfcf" stroke-opacity="0.75" stroke-width="1"/>
<circle cx="454.5" cy="697.96" r="3.2" fill="#cfcfcf"/>
<text x="445.95" y="701.36" class="st">*</text>
<text x="410.8" y="699.86" class="rl" fill="#b6b6b6" stroke="#b6b6b6">Ferroptosis</text>
<path d="M534.9 714H528.47" stroke="#d9503f" stroke-opacity="0.75" stroke-width="1"/>
<circle cx="528.47" cy="714" r="3.0" fill="#d9503f"/>
<text x="520.12" y="717.4" class="st">*</text>
<text x="410.8" y="715.9" class="rl" fill="#be4637" stroke="#be4637">Linoleic acid metabolism</text>
<circle cx="534.9" cy="730.04" r="2.8" fill="#cfcfcf"/>
<text x="541.3" y="733.44" class="st">*</text>
<text x="410.8" y="731.94" class="rl" fill="#b6b6b6" stroke="#b6b6b6">Necroptosis</text>
<path d="M534.9 746.08H516.41" stroke="#7c87ba" stroke-opacity="0.75" stroke-width="1"/>
<circle cx="516.41" cy="746.08" r="3.2" fill="#7c87ba"/>
<text x="505.91" y="749.48" class="st">**</text>
<text x="410.8" y="747.98" class="rl" fill="#6d76a3" stroke="#6d76a3">Arginine and proline metabolism</text>
<path d="M534.9 762.12H523.64" stroke="#e0937e" stroke-opacity="0.75" stroke-width="1"/>
<circle cx="523.64" cy="762.12" r="4.4" fill="#e0937e"/>
<text x="511.94" y="765.52" class="st">**</text>
<text x="410.8" y="764.02" class="rl" fill="#c5816e" stroke="#c5816e">Biosynthesis of cofactors</text>
<path d="M534.9 778.16H575.1" stroke="#7b5a44" stroke-opacity="0.75" stroke-width="1"/>
<circle cx="575.1" cy="778.16" r="3.0" fill="#7b5a44"/>
<text x="581.7" y="781.56" class="st">***</text>
<text x="410.8" y="780.06" class="rl" fill="#6c4f3b" stroke="#6c4f3b">Citrate cycle (TCA cycle)</text>
<path d="M534.9 794.2H538.92" stroke="#d9503f" stroke-opacity="0.75" stroke-width="1"/>
<circle cx="538.92" cy="794.2" r="4.2" fill="#d9503f"/>
<text x="546.72" y="797.6" class="st">**</text>
<text x="410.8" y="796.1" class="rl" fill="#be4637" stroke="#be4637">Glycerophospholipid metabolism</text>
<path d="M534.9 810.24H507.56" stroke="#7c87ba" stroke-opacity="0.75" stroke-width="1"/>
<circle cx="507.56" cy="810.24" r="3.0" fill="#7c87ba"/>
<text x="495.31" y="813.64" class="st">***</text>
<text x="410.8" y="812.14" class="rl" fill="#6d76a3" stroke="#6d76a3">Arginine biosynthesis</text>
<path d="M534.9 826.28H538.12" stroke="#cc2a2a" stroke-opacity="0.75" stroke-width="1"/>
<circle cx="538.12" cy="826.28" r="3.7" fill="#cc2a2a"/>
<text x="545.42" y="829.68" class="st">***</text>
<text x="410.8" y="828.18" class="rl" fill="#b32424" stroke="#b32424">Purine metabolism</text>
<path d="M534.9 842.32H502.74" stroke="#8ed3b9" stroke-opacity="0.75" stroke-width="1"/>
<circle cx="502.74" cy="842.32" r="3.4" fill="#8ed3b9"/>
<text x="490.09" y="845.72" class="st">***</text>
<text x="410.8" y="844.22" class="rl" fill="#7cb9a2" stroke="#7cb9a2">D-Amino acid metabolism</text>
<circle cx="534.9" cy="858.36" r="3.2" fill="#7c87ba"/>
<text x="541.7" y="861.76" class="st">***</text>
<text x="410.8" y="860.26" class="rl" fill="#6d76a3" stroke="#6d76a3">Alanine, aspartate and glutamate metabolism</text>
<path d="M534.9 874.4H550.18" stroke="#e0937e" stroke-opacity="0.75" stroke-width="1"/>
<circle cx="550.18" cy="874.4" r="3.5" fill="#e0937e"/>
<text x="557.28" y="877.8" class="st">***</text>
<text x="410.8" y="876.3" class="rl" fill="#c5816e" stroke="#c5816e">Nucleotide metabolism</text>
<path d="M534.9 890.44H543.74" stroke="#3c4b8a" stroke-opacity="0.75" stroke-width="1"/>
<circle cx="543.74" cy="890.44" r="3.3" fill="#3c4b8a"/>
<text x="550.64" y="893.84" class="st">***</text>
<text x="410.8" y="892.34" class="rl" fill="#344279" stroke="#344279">Neuroactive ligand-receptor interaction</text>
<path d="M534.9 906.48H492.29" stroke="#3b9a78" stroke-opacity="0.75" stroke-width="1"/>
<circle cx="492.29" cy="906.48" r="3.6" fill="#3b9a78"/>
<text x="479.44" y="909.88" class="st">***</text>
<text x="410.8" y="908.38" class="rl" fill="#338769" stroke="#338769">Aminoacyl-tRNA biosynthesis</text>
<path d="M534.9 922.52H524.85" stroke="#5dbccd" stroke-opacity="0.75" stroke-width="1"/>
<circle cx="524.85" cy="922.52" r="4.0" fill="#5dbccd"/>
<text x="511.6" y="925.92" class="st">***</text>
<text x="410.8" y="924.42" class="rl" fill="#51a5b4" stroke="#51a5b4">ABC transporters</text>
<path d="M534.9 938.56H564.65" stroke="#d9503f" stroke-opacity="0.75" stroke-width="1"/>
<circle cx="564.65" cy="938.56" r="4.0" fill="#d9503f"/>
<text x="572.25" y="941.96" class="st">***</text>
<text x="410.8" y="940.46" class="rl" fill="#be4637" stroke="#be4637">Arachidonic acid metabolism</text>
<text x="414.3" y="954.3" class="lx">-1.5</text>
<text x="454.5" y="954.3" class="lx">-1.0</text>
<text x="494.7" y="954.3" class="lx">-0.5</text>
<text x="534.9" y="954.3" class="lx">0.0</text>
<text x="575.1" y="954.3" class="lx">0.5</text>
<text x="615.3" y="954.3" class="lx">1.0</text>
<text x="655.5" y="954.3" class="lx">1.5</text>
<path d="M411.6 633.8H414.5M411.6 649.84H414.5M411.6 665.88H414.5M411.6 681.92H414.5M411.6 697.96H414.5M411.6 714H414.5M411.6 730.04H414.5M411.6 746.08H414.5M411.6 762.12H414.5M411.6 778.16H414.5M411.6 794.2H414.5M411.6 810.24H414.5M411.6 826.28H414.5M411.6 842.32H414.5M411.6 858.36H414.5M411.6 874.4H414.5M411.6 890.44H414.5M411.6 906.48H414.5M411.6 922.52H414.5M411.6 938.56H414.5M414.3 946.4v2.4M454.5 946.4v2.4M494.7 946.4v2.4M534.9 946.4v2.4M575.1 946.4v2.4M615.3 946.4v2.4M655.5 946.4v2.4" stroke="#333" stroke-width="0.8" fill="none"/>
<path d="M414.5 946.4H655.6V626.1H414.5" stroke="#5a5a5a" stroke-width="0.9" fill="none"/>
<path d="M414.5 626.1V946.4" stroke="#333" stroke-width="0.9" fill="none"/>
<text transform="translate(309.8 777.5) rotate(-90)" class="kp">KEGG Pathway</text>
<text x="660.8" y="801.7" class="nb">Number</text>
<circle cx="665.3" cy="808.9" r="2.6" fill="#d9503f"/><text x="673.3" y="810.9" class="nbt">2</text>
<circle cx="665.3" cy="818.1" r="4.2" fill="#d9503f"/><text x="673.3" y="820.1" class="nbt">15</text>
</svg></body></html>
